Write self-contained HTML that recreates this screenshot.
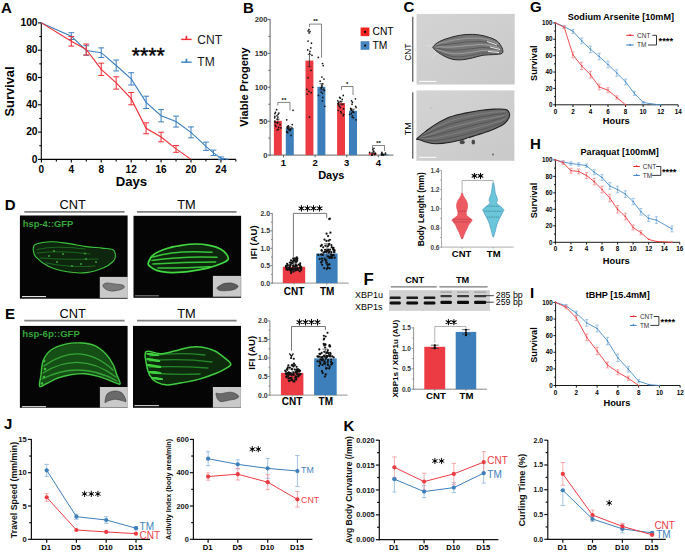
<!DOCTYPE html>
<html><head><meta charset="utf-8"><style>
html,body{margin:0;padding:0;background:#fff;width:685px;height:552px;overflow:hidden}
svg{display:block;font-family:"Liberation Sans",sans-serif}
</style></head><body>
<svg width="685" height="552" viewBox="0 0 685 552">
<rect x="0" y="0" width="685" height="552" fill="#fff"/>
<text x="1.00" y="13.00" font-size="15" font-weight="bold" text-anchor="start" fill="#000">A</text>
<line x1="41.30" y1="22.60" x2="41.30" y2="159.90" stroke="#000" stroke-width="1.1"/>
<line x1="38.00" y1="159.40" x2="41.30" y2="159.40" stroke="#000" stroke-width="1.1"/>
<text x="37.60" y="162.60" font-size="10.3" font-weight="bold" text-anchor="end" fill="#000">0</text>
<line x1="38.00" y1="132.10" x2="41.30" y2="132.10" stroke="#000" stroke-width="1.1"/>
<text x="37.60" y="135.30" font-size="10.3" font-weight="bold" text-anchor="end" fill="#000">20</text>
<line x1="38.00" y1="104.80" x2="41.30" y2="104.80" stroke="#000" stroke-width="1.1"/>
<text x="37.60" y="108.00" font-size="10.3" font-weight="bold" text-anchor="end" fill="#000">40</text>
<line x1="38.00" y1="77.50" x2="41.30" y2="77.50" stroke="#000" stroke-width="1.1"/>
<text x="37.60" y="80.70" font-size="10.3" font-weight="bold" text-anchor="end" fill="#000">60</text>
<line x1="38.00" y1="50.20" x2="41.30" y2="50.20" stroke="#000" stroke-width="1.1"/>
<text x="37.60" y="53.40" font-size="10.3" font-weight="bold" text-anchor="end" fill="#000">80</text>
<line x1="38.00" y1="22.90" x2="41.30" y2="22.90" stroke="#000" stroke-width="1.1"/>
<text x="37.60" y="26.10" font-size="10.3" font-weight="bold" text-anchor="end" fill="#000">100</text>
<line x1="39.30" y1="145.75" x2="41.30" y2="145.75" stroke="#000" stroke-width="1.1"/>
<line x1="39.30" y1="118.45" x2="41.30" y2="118.45" stroke="#000" stroke-width="1.1"/>
<line x1="39.30" y1="91.15" x2="41.30" y2="91.15" stroke="#000" stroke-width="1.1"/>
<line x1="39.30" y1="63.85" x2="41.30" y2="63.85" stroke="#000" stroke-width="1.1"/>
<line x1="39.30" y1="36.55" x2="41.30" y2="36.55" stroke="#000" stroke-width="1.1"/>
<line x1="40.80" y1="159.40" x2="235.88" y2="159.40" stroke="#000" stroke-width="1.1"/>
<line x1="41.40" y1="159.40" x2="41.40" y2="162.40" stroke="#000" stroke-width="1.1"/>
<text x="41.40" y="172.90" font-size="10.0" font-weight="bold" text-anchor="middle" fill="#000">0</text>
<line x1="71.32" y1="159.40" x2="71.32" y2="162.40" stroke="#000" stroke-width="1.1"/>
<text x="71.32" y="172.90" font-size="10.0" font-weight="bold" text-anchor="middle" fill="#000">4</text>
<line x1="101.24" y1="159.40" x2="101.24" y2="162.40" stroke="#000" stroke-width="1.1"/>
<text x="101.24" y="172.90" font-size="10.0" font-weight="bold" text-anchor="middle" fill="#000">8</text>
<line x1="131.16" y1="159.40" x2="131.16" y2="162.40" stroke="#000" stroke-width="1.1"/>
<text x="131.16" y="172.90" font-size="10.0" font-weight="bold" text-anchor="middle" fill="#000">12</text>
<line x1="161.08" y1="159.40" x2="161.08" y2="162.40" stroke="#000" stroke-width="1.1"/>
<text x="161.08" y="172.90" font-size="10.0" font-weight="bold" text-anchor="middle" fill="#000">16</text>
<line x1="191.00" y1="159.40" x2="191.00" y2="162.40" stroke="#000" stroke-width="1.1"/>
<text x="191.00" y="172.90" font-size="10.0" font-weight="bold" text-anchor="middle" fill="#000">20</text>
<line x1="220.92" y1="159.40" x2="220.92" y2="162.40" stroke="#000" stroke-width="1.1"/>
<text x="220.92" y="172.90" font-size="10.0" font-weight="bold" text-anchor="middle" fill="#000">24</text>
<line x1="56.36" y1="159.40" x2="56.36" y2="161.40" stroke="#000" stroke-width="1.1"/>
<line x1="86.28" y1="159.40" x2="86.28" y2="161.40" stroke="#000" stroke-width="1.1"/>
<line x1="116.20" y1="159.40" x2="116.20" y2="161.40" stroke="#000" stroke-width="1.1"/>
<line x1="146.12" y1="159.40" x2="146.12" y2="161.40" stroke="#000" stroke-width="1.1"/>
<line x1="176.04" y1="159.40" x2="176.04" y2="161.40" stroke="#000" stroke-width="1.1"/>
<line x1="205.96" y1="159.40" x2="205.96" y2="161.40" stroke="#000" stroke-width="1.1"/>
<line x1="235.88" y1="159.40" x2="235.88" y2="161.40" stroke="#000" stroke-width="1.1"/>
<text x="131.40" y="186.30" font-size="13.2" font-weight="bold" text-anchor="middle" fill="#000">Days</text>
<text x="13.80" y="91.50" font-size="12.85" font-weight="bold" text-anchor="middle" fill="#000" transform="rotate(-90 13.8 91.5)">Survival</text>
<polyline points="41.40,22.90 71.32,36.14 86.28,50.47 101.24,52.66 116.20,65.49 131.16,78.87 146.12,102.34 161.08,115.72 176.04,121.59 191.00,132.37 205.96,146.30 213.44,152.85 220.92,158.31 228.40,159.40" fill="none" stroke="#3a7fc0" stroke-width="1.1"/>
<line x1="71.32" y1="32.73" x2="71.32" y2="39.55" stroke="#3a7fc0" stroke-width="1.0"/>
<line x1="68.42" y1="32.73" x2="74.22" y2="32.73" stroke="#3a7fc0" stroke-width="1.0"/>
<line x1="68.42" y1="39.55" x2="74.22" y2="39.55" stroke="#3a7fc0" stroke-width="1.0"/>
<line x1="86.28" y1="45.70" x2="86.28" y2="55.25" stroke="#3a7fc0" stroke-width="1.0"/>
<line x1="83.38" y1="45.70" x2="89.18" y2="45.70" stroke="#3a7fc0" stroke-width="1.0"/>
<line x1="83.38" y1="55.25" x2="89.18" y2="55.25" stroke="#3a7fc0" stroke-width="1.0"/>
<line x1="101.24" y1="47.88" x2="101.24" y2="57.43" stroke="#3a7fc0" stroke-width="1.0"/>
<line x1="98.34" y1="47.88" x2="104.14" y2="47.88" stroke="#3a7fc0" stroke-width="1.0"/>
<line x1="98.34" y1="57.43" x2="104.14" y2="57.43" stroke="#3a7fc0" stroke-width="1.0"/>
<line x1="116.20" y1="60.03" x2="116.20" y2="70.95" stroke="#3a7fc0" stroke-width="1.0"/>
<line x1="113.30" y1="60.03" x2="119.10" y2="60.03" stroke="#3a7fc0" stroke-width="1.0"/>
<line x1="113.30" y1="70.95" x2="119.10" y2="70.95" stroke="#3a7fc0" stroke-width="1.0"/>
<line x1="131.16" y1="72.72" x2="131.16" y2="85.01" stroke="#3a7fc0" stroke-width="1.0"/>
<line x1="128.26" y1="72.72" x2="134.06" y2="72.72" stroke="#3a7fc0" stroke-width="1.0"/>
<line x1="128.26" y1="85.01" x2="134.06" y2="85.01" stroke="#3a7fc0" stroke-width="1.0"/>
<line x1="146.12" y1="96.20" x2="146.12" y2="108.49" stroke="#3a7fc0" stroke-width="1.0"/>
<line x1="143.22" y1="96.20" x2="149.02" y2="96.20" stroke="#3a7fc0" stroke-width="1.0"/>
<line x1="143.22" y1="108.49" x2="149.02" y2="108.49" stroke="#3a7fc0" stroke-width="1.0"/>
<line x1="161.08" y1="109.58" x2="161.08" y2="121.86" stroke="#3a7fc0" stroke-width="1.0"/>
<line x1="158.18" y1="109.58" x2="163.98" y2="109.58" stroke="#3a7fc0" stroke-width="1.0"/>
<line x1="158.18" y1="121.86" x2="163.98" y2="121.86" stroke="#3a7fc0" stroke-width="1.0"/>
<line x1="176.04" y1="116.13" x2="176.04" y2="127.05" stroke="#3a7fc0" stroke-width="1.0"/>
<line x1="173.14" y1="116.13" x2="178.94" y2="116.13" stroke="#3a7fc0" stroke-width="1.0"/>
<line x1="173.14" y1="127.05" x2="178.94" y2="127.05" stroke="#3a7fc0" stroke-width="1.0"/>
<line x1="191.00" y1="126.91" x2="191.00" y2="137.83" stroke="#3a7fc0" stroke-width="1.0"/>
<line x1="188.10" y1="126.91" x2="193.90" y2="126.91" stroke="#3a7fc0" stroke-width="1.0"/>
<line x1="188.10" y1="137.83" x2="193.90" y2="137.83" stroke="#3a7fc0" stroke-width="1.0"/>
<line x1="205.96" y1="142.20" x2="205.96" y2="150.39" stroke="#3a7fc0" stroke-width="1.0"/>
<line x1="203.06" y1="142.20" x2="208.86" y2="142.20" stroke="#3a7fc0" stroke-width="1.0"/>
<line x1="203.06" y1="150.39" x2="208.86" y2="150.39" stroke="#3a7fc0" stroke-width="1.0"/>
<line x1="213.44" y1="150.12" x2="213.44" y2="155.58" stroke="#3a7fc0" stroke-width="1.0"/>
<line x1="210.54" y1="150.12" x2="216.34" y2="150.12" stroke="#3a7fc0" stroke-width="1.0"/>
<line x1="210.54" y1="155.58" x2="216.34" y2="155.58" stroke="#3a7fc0" stroke-width="1.0"/>
<line x1="220.92" y1="156.94" x2="220.92" y2="159.67" stroke="#3a7fc0" stroke-width="1.0"/>
<line x1="218.02" y1="156.94" x2="223.82" y2="156.94" stroke="#3a7fc0" stroke-width="1.0"/>
<line x1="218.02" y1="159.67" x2="223.82" y2="159.67" stroke="#3a7fc0" stroke-width="1.0"/>
<polyline points="41.40,22.90 71.32,41.33 86.28,49.52 101.24,69.31 116.20,82.96 131.16,98.66 146.12,128.28 161.08,137.01 176.04,148.89 191.00,159.40" fill="none" stroke="#ef2d35" stroke-width="1.1"/>
<line x1="71.32" y1="36.55" x2="71.32" y2="46.11" stroke="#ef2d35" stroke-width="1.0"/>
<line x1="68.42" y1="36.55" x2="74.22" y2="36.55" stroke="#ef2d35" stroke-width="1.0"/>
<line x1="68.42" y1="46.11" x2="74.22" y2="46.11" stroke="#ef2d35" stroke-width="1.0"/>
<line x1="86.28" y1="44.06" x2="86.28" y2="54.98" stroke="#ef2d35" stroke-width="1.0"/>
<line x1="83.38" y1="44.06" x2="89.18" y2="44.06" stroke="#ef2d35" stroke-width="1.0"/>
<line x1="83.38" y1="54.98" x2="89.18" y2="54.98" stroke="#ef2d35" stroke-width="1.0"/>
<line x1="101.24" y1="63.17" x2="101.24" y2="75.45" stroke="#ef2d35" stroke-width="1.0"/>
<line x1="98.34" y1="63.17" x2="104.14" y2="63.17" stroke="#ef2d35" stroke-width="1.0"/>
<line x1="98.34" y1="75.45" x2="104.14" y2="75.45" stroke="#ef2d35" stroke-width="1.0"/>
<line x1="116.20" y1="76.82" x2="116.20" y2="89.10" stroke="#ef2d35" stroke-width="1.0"/>
<line x1="113.30" y1="76.82" x2="119.10" y2="76.82" stroke="#ef2d35" stroke-width="1.0"/>
<line x1="113.30" y1="89.10" x2="119.10" y2="89.10" stroke="#ef2d35" stroke-width="1.0"/>
<line x1="131.16" y1="92.52" x2="131.16" y2="104.80" stroke="#ef2d35" stroke-width="1.0"/>
<line x1="128.26" y1="92.52" x2="134.06" y2="92.52" stroke="#ef2d35" stroke-width="1.0"/>
<line x1="128.26" y1="104.80" x2="134.06" y2="104.80" stroke="#ef2d35" stroke-width="1.0"/>
<line x1="146.12" y1="122.82" x2="146.12" y2="133.74" stroke="#ef2d35" stroke-width="1.0"/>
<line x1="143.22" y1="122.82" x2="149.02" y2="122.82" stroke="#ef2d35" stroke-width="1.0"/>
<line x1="143.22" y1="133.74" x2="149.02" y2="133.74" stroke="#ef2d35" stroke-width="1.0"/>
<line x1="161.08" y1="132.24" x2="161.08" y2="141.79" stroke="#ef2d35" stroke-width="1.0"/>
<line x1="158.18" y1="132.24" x2="163.98" y2="132.24" stroke="#ef2d35" stroke-width="1.0"/>
<line x1="158.18" y1="141.79" x2="163.98" y2="141.79" stroke="#ef2d35" stroke-width="1.0"/>
<line x1="176.04" y1="145.48" x2="176.04" y2="152.30" stroke="#ef2d35" stroke-width="1.0"/>
<line x1="173.14" y1="145.48" x2="178.94" y2="145.48" stroke="#ef2d35" stroke-width="1.0"/>
<line x1="173.14" y1="152.30" x2="178.94" y2="152.30" stroke="#ef2d35" stroke-width="1.0"/>
<line x1="181.20" y1="39.40" x2="191.60" y2="39.40" stroke="#ef2d35" stroke-width="1.4"/>
<line x1="186.40" y1="35.90" x2="186.40" y2="39.40" stroke="#ef2d35" stroke-width="1.7"/>
<text x="197.30" y="43.50" font-size="12" font-weight="normal" text-anchor="start" fill="#1a1a1a">CNT</text>
<line x1="181.20" y1="62.20" x2="191.60" y2="62.20" stroke="#3a7fc0" stroke-width="1.4"/>
<line x1="186.40" y1="58.70" x2="186.40" y2="62.20" stroke="#3a7fc0" stroke-width="1.7"/>
<text x="197.30" y="66.30" font-size="12" font-weight="normal" text-anchor="start" fill="#1a1a1a">TM</text>
<text x="131.70" y="62.90" font-size="21.2" font-weight="normal" text-anchor="start" fill="#000" stroke="#000" stroke-width="0.4">****</text>
<text x="243.00" y="12.50" font-size="15" font-weight="bold" text-anchor="start" fill="#000">B</text>
<line x1="270.10" y1="19.10" x2="270.10" y2="155.60" stroke="#555" stroke-width="0.9"/>
<line x1="267.60" y1="155.10" x2="270.10" y2="155.10" stroke="#555" stroke-width="0.9"/>
<text x="267.40" y="157.80" font-size="7.6" font-weight="bold" text-anchor="end" fill="#333">0</text>
<line x1="267.60" y1="121.17" x2="270.10" y2="121.17" stroke="#555" stroke-width="0.9"/>
<text x="267.40" y="123.88" font-size="7.6" font-weight="bold" text-anchor="end" fill="#333">50</text>
<line x1="267.60" y1="87.25" x2="270.10" y2="87.25" stroke="#555" stroke-width="0.9"/>
<text x="267.40" y="89.95" font-size="7.6" font-weight="bold" text-anchor="end" fill="#333">100</text>
<line x1="267.60" y1="53.32" x2="270.10" y2="53.32" stroke="#555" stroke-width="0.9"/>
<text x="267.40" y="56.02" font-size="7.6" font-weight="bold" text-anchor="end" fill="#333">150</text>
<line x1="267.60" y1="19.40" x2="270.10" y2="19.40" stroke="#555" stroke-width="0.9"/>
<text x="267.40" y="22.10" font-size="7.6" font-weight="bold" text-anchor="end" fill="#333">200</text>
<line x1="268.30" y1="138.14" x2="270.10" y2="138.14" stroke="#555" stroke-width="0.9"/>
<line x1="268.30" y1="104.21" x2="270.10" y2="104.21" stroke="#555" stroke-width="0.9"/>
<line x1="268.30" y1="70.29" x2="270.10" y2="70.29" stroke="#555" stroke-width="0.9"/>
<line x1="268.30" y1="36.36" x2="270.10" y2="36.36" stroke="#555" stroke-width="0.9"/>
<line x1="269.30" y1="155.10" x2="393.50" y2="155.10" stroke="#555" stroke-width="0.9"/>
<line x1="283.50" y1="155.10" x2="283.50" y2="157.30" stroke="#555" stroke-width="0.9"/>
<line x1="315.10" y1="155.10" x2="315.10" y2="157.30" stroke="#555" stroke-width="0.9"/>
<line x1="346.70" y1="155.10" x2="346.70" y2="157.30" stroke="#555" stroke-width="0.9"/>
<line x1="378.30" y1="155.10" x2="378.30" y2="157.30" stroke="#555" stroke-width="0.9"/>
<text x="283.50" y="165.80" font-size="9.5" font-weight="bold" text-anchor="middle" fill="#000">1</text>
<text x="315.10" y="165.80" font-size="9.5" font-weight="bold" text-anchor="middle" fill="#000">2</text>
<text x="346.70" y="165.80" font-size="9.5" font-weight="bold" text-anchor="middle" fill="#000">3</text>
<text x="378.30" y="165.80" font-size="9.5" font-weight="bold" text-anchor="middle" fill="#000">4</text>
<text x="331.30" y="178.60" font-size="11" font-weight="bold" text-anchor="middle" fill="#000">Days</text>
<text x="248.30" y="87.00" font-size="11" font-weight="bold" text-anchor="middle" fill="#000" transform="rotate(-90 248.3 87)">Viable Progeny</text>
<rect x="273.90" y="120.84" width="7.90" height="34.26" fill="#ec3b43"/>
<rect x="285.80" y="128.10" width="8.00" height="27.00" fill="#3d7fba"/>
<line x1="277.85" y1="119.14" x2="277.85" y2="122.53" stroke="#222" stroke-width="0.7"/>
<line x1="276.05" y1="119.14" x2="279.65" y2="119.14" stroke="#222" stroke-width="0.7"/>
<line x1="276.05" y1="122.53" x2="279.65" y2="122.53" stroke="#222" stroke-width="0.7"/>
<circle cx="276.65" cy="109.64" r="0.85" fill="#111"/>
<circle cx="275.48" cy="112.35" r="0.85" fill="#111"/>
<circle cx="278.88" cy="113.03" r="0.85" fill="#111"/>
<circle cx="274.94" cy="113.71" r="0.85" fill="#111"/>
<circle cx="278.09" cy="114.39" r="0.85" fill="#111"/>
<circle cx="276.94" cy="115.75" r="0.85" fill="#111"/>
<circle cx="274.84" cy="116.43" r="0.85" fill="#111"/>
<circle cx="277.90" cy="117.10" r="0.85" fill="#111"/>
<circle cx="274.70" cy="117.78" r="0.85" fill="#111"/>
<circle cx="277.40" cy="119.14" r="0.85" fill="#111"/>
<circle cx="274.93" cy="121.17" r="0.85" fill="#111"/>
<circle cx="275.07" cy="122.53" r="0.85" fill="#111"/>
<circle cx="277.34" cy="123.21" r="0.85" fill="#111"/>
<circle cx="280.07" cy="124.57" r="0.85" fill="#111"/>
<circle cx="275.29" cy="125.25" r="0.85" fill="#111"/>
<circle cx="275.97" cy="126.60" r="0.85" fill="#111"/>
<circle cx="278.72" cy="127.28" r="0.85" fill="#111"/>
<circle cx="280.89" cy="127.96" r="0.85" fill="#111"/>
<circle cx="278.37" cy="129.32" r="0.85" fill="#111"/>
<circle cx="277.15" cy="130.00" r="0.85" fill="#111"/>
<line x1="289.80" y1="126.87" x2="289.80" y2="129.32" stroke="#222" stroke-width="0.7"/>
<line x1="288.00" y1="126.87" x2="291.60" y2="126.87" stroke="#222" stroke-width="0.7"/>
<line x1="288.00" y1="129.32" x2="291.60" y2="129.32" stroke="#222" stroke-width="0.7"/>
<circle cx="293.04" cy="110.32" r="0.85" fill="#111"/>
<circle cx="286.72" cy="119.82" r="0.85" fill="#111"/>
<circle cx="292.24" cy="124.57" r="0.85" fill="#111"/>
<circle cx="288.37" cy="125.92" r="0.85" fill="#111"/>
<circle cx="287.38" cy="126.60" r="0.85" fill="#111"/>
<circle cx="287.20" cy="127.28" r="0.85" fill="#111"/>
<circle cx="288.50" cy="127.96" r="0.85" fill="#111"/>
<circle cx="291.95" cy="127.96" r="0.85" fill="#111"/>
<circle cx="287.63" cy="128.64" r="0.85" fill="#111"/>
<circle cx="290.35" cy="129.32" r="0.85" fill="#111"/>
<circle cx="290.74" cy="129.32" r="0.85" fill="#111"/>
<circle cx="288.93" cy="130.00" r="0.85" fill="#111"/>
<circle cx="290.12" cy="130.67" r="0.85" fill="#111"/>
<circle cx="286.83" cy="131.35" r="0.85" fill="#111"/>
<circle cx="286.81" cy="132.03" r="0.85" fill="#111"/>
<circle cx="287.80" cy="132.71" r="0.85" fill="#111"/>
<circle cx="291.03" cy="135.42" r="0.85" fill="#111"/>
<rect x="305.50" y="60.58" width="7.90" height="94.52" fill="#ec3b43"/>
<rect x="317.40" y="86.78" width="8.00" height="68.32" fill="#3d7fba"/>
<line x1="309.45" y1="54.48" x2="309.45" y2="66.69" stroke="#222" stroke-width="0.7"/>
<line x1="307.65" y1="54.48" x2="311.25" y2="54.48" stroke="#222" stroke-width="0.7"/>
<line x1="307.65" y1="66.69" x2="311.25" y2="66.69" stroke="#222" stroke-width="0.7"/>
<circle cx="308.96" cy="29.58" r="0.85" fill="#111"/>
<circle cx="308.19" cy="30.93" r="0.85" fill="#111"/>
<circle cx="310.03" cy="31.61" r="0.85" fill="#111"/>
<circle cx="309.13" cy="32.97" r="0.85" fill="#111"/>
<circle cx="308.09" cy="41.11" r="0.85" fill="#111"/>
<circle cx="311.45" cy="43.15" r="0.85" fill="#111"/>
<circle cx="310.80" cy="47.90" r="0.85" fill="#111"/>
<circle cx="307.71" cy="49.93" r="0.85" fill="#111"/>
<circle cx="309.96" cy="51.29" r="0.85" fill="#111"/>
<circle cx="309.62" cy="53.32" r="0.85" fill="#111"/>
<circle cx="312.00" cy="55.36" r="0.85" fill="#111"/>
<circle cx="311.01" cy="70.29" r="0.85" fill="#111"/>
<circle cx="308.01" cy="77.75" r="0.85" fill="#111"/>
<circle cx="312.72" cy="87.25" r="0.85" fill="#111"/>
<circle cx="306.85" cy="89.29" r="0.85" fill="#111"/>
<circle cx="308.89" cy="91.32" r="0.85" fill="#111"/>
<circle cx="311.20" cy="92.68" r="0.85" fill="#111"/>
<circle cx="307.08" cy="94.03" r="0.85" fill="#111"/>
<circle cx="309.37" cy="117.10" r="0.85" fill="#111"/>
<line x1="321.40" y1="83.72" x2="321.40" y2="89.83" stroke="#222" stroke-width="0.7"/>
<line x1="319.60" y1="83.72" x2="323.20" y2="83.72" stroke="#222" stroke-width="0.7"/>
<line x1="319.60" y1="89.83" x2="323.20" y2="89.83" stroke="#222" stroke-width="0.7"/>
<circle cx="318.27" cy="57.40" r="0.85" fill="#111"/>
<circle cx="322.54" cy="63.50" r="0.85" fill="#111"/>
<circle cx="323.20" cy="65.54" r="0.85" fill="#111"/>
<circle cx="321.90" cy="77.07" r="0.85" fill="#111"/>
<circle cx="323.95" cy="79.11" r="0.85" fill="#111"/>
<circle cx="320.13" cy="81.14" r="0.85" fill="#111"/>
<circle cx="322.73" cy="83.86" r="0.85" fill="#111"/>
<circle cx="322.04" cy="85.89" r="0.85" fill="#111"/>
<circle cx="321.94" cy="87.25" r="0.85" fill="#111"/>
<circle cx="321.10" cy="87.93" r="0.85" fill="#111"/>
<circle cx="323.71" cy="89.29" r="0.85" fill="#111"/>
<circle cx="324.42" cy="90.64" r="0.85" fill="#111"/>
<circle cx="321.22" cy="92.00" r="0.85" fill="#111"/>
<circle cx="322.52" cy="93.36" r="0.85" fill="#111"/>
<circle cx="318.41" cy="95.39" r="0.85" fill="#111"/>
<circle cx="322.77" cy="97.43" r="0.85" fill="#111"/>
<circle cx="322.40" cy="100.82" r="0.85" fill="#111"/>
<circle cx="324.75" cy="106.25" r="0.85" fill="#111"/>
<rect x="337.10" y="103.06" width="7.90" height="52.04" fill="#ec3b43"/>
<rect x="349.00" y="110.79" width="8.00" height="44.31" fill="#3d7fba"/>
<line x1="341.05" y1="101.36" x2="341.05" y2="104.76" stroke="#222" stroke-width="0.7"/>
<line x1="339.25" y1="101.36" x2="342.85" y2="101.36" stroke="#222" stroke-width="0.7"/>
<line x1="339.25" y1="104.76" x2="342.85" y2="104.76" stroke="#222" stroke-width="0.7"/>
<circle cx="343.24" cy="95.39" r="0.85" fill="#111"/>
<circle cx="339.59" cy="97.43" r="0.85" fill="#111"/>
<circle cx="340.27" cy="98.11" r="0.85" fill="#111"/>
<circle cx="342.20" cy="99.46" r="0.85" fill="#111"/>
<circle cx="337.80" cy="100.82" r="0.85" fill="#111"/>
<circle cx="340.79" cy="101.50" r="0.85" fill="#111"/>
<circle cx="338.79" cy="102.18" r="0.85" fill="#111"/>
<circle cx="338.45" cy="102.86" r="0.85" fill="#111"/>
<circle cx="338.05" cy="103.53" r="0.85" fill="#111"/>
<circle cx="342.87" cy="104.21" r="0.85" fill="#111"/>
<circle cx="338.53" cy="104.89" r="0.85" fill="#111"/>
<circle cx="339.33" cy="106.25" r="0.85" fill="#111"/>
<circle cx="340.31" cy="107.60" r="0.85" fill="#111"/>
<circle cx="343.58" cy="108.96" r="0.85" fill="#111"/>
<circle cx="338.20" cy="110.32" r="0.85" fill="#111"/>
<circle cx="340.70" cy="111.68" r="0.85" fill="#111"/>
<circle cx="341.39" cy="113.03" r="0.85" fill="#111"/>
<circle cx="343.66" cy="114.39" r="0.85" fill="#111"/>
<circle cx="343.22" cy="115.75" r="0.85" fill="#111"/>
<line x1="353.00" y1="109.10" x2="353.00" y2="112.49" stroke="#222" stroke-width="0.7"/>
<line x1="351.20" y1="109.10" x2="354.80" y2="109.10" stroke="#222" stroke-width="0.7"/>
<line x1="351.20" y1="112.49" x2="354.80" y2="112.49" stroke="#222" stroke-width="0.7"/>
<circle cx="355.48" cy="98.78" r="0.85" fill="#111"/>
<circle cx="351.49" cy="100.82" r="0.85" fill="#111"/>
<circle cx="352.42" cy="102.18" r="0.85" fill="#111"/>
<circle cx="352.04" cy="104.21" r="0.85" fill="#111"/>
<circle cx="355.61" cy="106.25" r="0.85" fill="#111"/>
<circle cx="356.11" cy="107.60" r="0.85" fill="#111"/>
<circle cx="350.63" cy="108.28" r="0.85" fill="#111"/>
<circle cx="350.80" cy="108.96" r="0.85" fill="#111"/>
<circle cx="351.18" cy="109.64" r="0.85" fill="#111"/>
<circle cx="351.19" cy="110.32" r="0.85" fill="#111"/>
<circle cx="352.90" cy="111.00" r="0.85" fill="#111"/>
<circle cx="353.61" cy="112.35" r="0.85" fill="#111"/>
<circle cx="351.39" cy="113.71" r="0.85" fill="#111"/>
<circle cx="349.63" cy="114.39" r="0.85" fill="#111"/>
<circle cx="352.45" cy="115.75" r="0.85" fill="#111"/>
<circle cx="352.11" cy="117.10" r="0.85" fill="#111"/>
<circle cx="353.45" cy="117.78" r="0.85" fill="#111"/>
<circle cx="356.08" cy="119.82" r="0.85" fill="#111"/>
<rect x="368.70" y="153.06" width="7.90" height="2.04" fill="#ec3b43"/>
<rect x="380.60" y="154.42" width="8.00" height="0.68" fill="#3d7fba"/>
<line x1="372.65" y1="152.39" x2="372.65" y2="153.74" stroke="#222" stroke-width="0.7"/>
<line x1="370.85" y1="152.39" x2="374.45" y2="152.39" stroke="#222" stroke-width="0.7"/>
<line x1="370.85" y1="153.74" x2="374.45" y2="153.74" stroke="#222" stroke-width="0.7"/>
<circle cx="373.95" cy="148.31" r="0.85" fill="#111"/>
<circle cx="372.76" cy="149.67" r="0.85" fill="#111"/>
<circle cx="373.45" cy="151.03" r="0.85" fill="#111"/>
<circle cx="373.85" cy="151.71" r="0.85" fill="#111"/>
<circle cx="369.62" cy="152.39" r="0.85" fill="#111"/>
<circle cx="375.37" cy="153.06" r="0.85" fill="#111"/>
<circle cx="374.55" cy="153.74" r="0.85" fill="#111"/>
<circle cx="375.20" cy="153.74" r="0.85" fill="#111"/>
<circle cx="374.68" cy="154.42" r="0.85" fill="#111"/>
<circle cx="371.92" cy="155.10" r="0.85" fill="#111"/>
<circle cx="371.96" cy="155.10" r="0.85" fill="#111"/>
<line x1="384.60" y1="154.08" x2="384.60" y2="154.76" stroke="#222" stroke-width="0.7"/>
<line x1="382.80" y1="154.08" x2="386.40" y2="154.08" stroke="#222" stroke-width="0.7"/>
<line x1="382.80" y1="154.76" x2="386.40" y2="154.76" stroke="#222" stroke-width="0.7"/>
<circle cx="381.90" cy="152.39" r="0.85" fill="#111"/>
<circle cx="385.51" cy="153.06" r="0.85" fill="#111"/>
<circle cx="381.62" cy="153.74" r="0.85" fill="#111"/>
<circle cx="381.66" cy="153.74" r="0.85" fill="#111"/>
<circle cx="382.62" cy="154.42" r="0.85" fill="#111"/>
<circle cx="382.30" cy="154.42" r="0.85" fill="#111"/>
<circle cx="383.51" cy="155.10" r="0.85" fill="#111"/>
<circle cx="381.56" cy="155.10" r="0.85" fill="#111"/>
<polyline points="277.80,105.50 277.80,102.40 290.00,102.40 290.00,110.50" fill="none" stroke="#333" stroke-width="0.6"/>
<text x="283.90" y="101.60" font-size="6" font-weight="bold" text-anchor="middle" fill="#000">**</text>
<polyline points="309.50,27.00 309.50,24.10 321.50,24.10 321.50,57.70" fill="none" stroke="#333" stroke-width="0.6"/>
<text x="315.50" y="23.30" font-size="6" font-weight="bold" text-anchor="middle" fill="#000">**</text>
<polyline points="341.50,90.00 341.50,86.50 353.00,86.50 353.00,95.00" fill="none" stroke="#333" stroke-width="0.6"/>
<text x="347.25" y="85.70" font-size="6" font-weight="bold" text-anchor="middle" fill="#000">*</text>
<polyline points="372.50,149.00 372.50,145.50 384.50,145.50 384.50,151.00" fill="none" stroke="#333" stroke-width="0.6"/>
<text x="378.50" y="144.70" font-size="6" font-weight="bold" text-anchor="middle" fill="#000">**</text>
<rect x="360.60" y="27.50" width="8.80" height="8.60" fill="#f2241f"/>
<circle cx="365.10" cy="31.90" r="1.15" fill="#000"/>
<text x="372.50" y="35.40" font-size="10.3" font-weight="normal" text-anchor="start" fill="#000">CNT</text>
<rect x="360.60" y="41.20" width="8.80" height="8.60" fill="#4585c0"/>
<circle cx="365.10" cy="45.60" r="1.15" fill="#000"/>
<text x="372.50" y="49.10" font-size="10.3" font-weight="normal" text-anchor="start" fill="#000">TM</text>
<text x="403.40" y="11.60" font-size="15" font-weight="bold" text-anchor="start" fill="#000">C</text>
<defs><linearGradient id="dicbg" x1="0" y1="0" x2="1" y2="1"><stop offset="0" stop-color="#d4d4d4"/><stop offset="1" stop-color="#c9c9c9"/></linearGradient><filter id="bl06"><feGaussianBlur stdDeviation="0.6"/></filter><filter id="bl1"><feGaussianBlur stdDeviation="1"/></filter><filter id="bl04"><feGaussianBlur stdDeviation="0.4"/></filter></defs>
<rect x="416.50" y="13.90" width="98.20" height="70.60" fill="url(#dicbg)"/>
<rect x="416.40" y="90.40" width="98.00" height="70.40" fill="url(#dicbg)"/>
<line x1="434.00" y1="46.50" x2="426.00" y2="45.20" stroke="#e6e6e6" stroke-width="0.6"/>
<line x1="437.00" y1="53.00" x2="432.00" y2="57.50" stroke="#e6e6e6" stroke-width="0.6"/>
<path d="M433.10,46.70 C433.97,45.38 436.40,43.05 439.70,41.40 C443.00,39.75 448.52,37.95 452.90,36.80 C457.28,35.65 461.63,34.82 466.00,34.50 C470.37,34.18 475.17,34.40 479.10,34.90 C483.03,35.40 486.53,36.42 489.60,37.50 C492.67,38.58 495.42,39.65 497.50,41.40 C499.58,43.15 501.33,46.02 502.10,48.00 C502.87,49.98 503.52,52.20 502.10,53.30 C500.68,54.40 496.77,54.28 493.60,54.60 C490.43,54.92 486.60,54.65 483.10,55.20 C479.60,55.75 476.12,57.13 472.60,57.90 C469.08,58.67 465.28,59.55 462.00,59.80 C458.72,60.05 455.73,59.95 452.90,59.40 C450.07,58.85 447.42,57.63 445.00,56.50 C442.58,55.37 440.15,53.80 438.40,52.60 C436.65,51.40 435.38,50.28 434.50,49.30 C433.62,48.32 432.23,48.02 433.10,46.70 Z" fill="#757575" stroke="#2a2a2a" stroke-width="1.0" filter="url(#bl04)"/>
<polyline points="437.00,44.75 438.50,43.91 440.00,43.13 441.50,42.82 443.00,42.51 444.50,42.20 446.00,41.85 447.50,41.49 449.00,41.13 450.50,40.77 452.00,40.41 453.50,40.10 455.00,39.89 456.50,39.68 458.00,39.46 459.50,39.25 461.00,39.03 462.50,38.80 464.00,38.54 465.50,38.28 467.00,38.19 468.50,38.19 470.00,38.18 471.50,38.18 473.00,38.18 474.50,38.16 476.00,38.14 477.50,38.12 479.00,38.10 480.50,38.34 482.00,38.60 483.50,38.87 485.00,39.17 486.50,39.47 488.00,39.78 489.50,40.08 491.00,40.67 492.50,41.29 494.00,41.90 495.50,42.50 497.00,43.09 498.50,44.49" fill="none" stroke="#a6a6a6" stroke-width="0.8" filter="url(#bl04)" stroke-linecap="round"/>
<polyline points="437.00,45.92 438.50,45.45 440.00,44.97 441.50,44.87 443.00,44.77 444.50,44.67 446.00,44.50 447.50,44.30 449.00,44.10 450.50,43.90 452.00,43.70 453.50,43.51 455.00,43.35 456.50,43.19 458.00,43.02 459.50,42.86 461.00,42.69 462.50,42.49 464.00,42.23 465.50,41.96 467.00,41.84 468.50,41.79 470.00,41.75 471.50,41.70 473.00,41.64 474.50,41.56 476.00,41.47 477.50,41.39 479.00,41.30 480.50,41.43 482.00,41.58 483.50,41.75 485.00,41.98 486.50,42.21 488.00,42.45 489.50,42.68 491.00,43.16 492.50,43.65 494.00,44.13 495.50,44.58 497.00,45.03 498.50,46.14" fill="none" stroke="#505050" stroke-width="0.8" filter="url(#bl04)" stroke-linecap="round"/>
<polyline points="437.00,47.10 438.50,47.00 440.00,46.81 441.50,46.92 443.00,47.03 444.50,47.14 446.00,47.15 447.50,47.11 449.00,47.07 450.50,47.03 452.00,46.99 453.50,46.92 455.00,46.81 456.50,46.69 458.00,46.58 459.50,46.46 461.00,46.35 462.50,46.18 464.00,45.92 465.50,45.65 467.00,45.50 468.50,45.40 470.00,45.31 471.50,45.21 473.00,45.10 474.50,44.95 476.00,44.80 477.50,44.66 479.00,44.51 480.50,44.53 482.00,44.56 483.50,44.62 485.00,44.79 486.50,44.96 488.00,45.12 489.50,45.29 491.00,45.64 492.50,46.01 494.00,46.36 495.50,46.67 497.00,46.97 498.50,47.79" fill="none" stroke="#b0b0b0" stroke-width="0.8" filter="url(#bl04)" stroke-linecap="round"/>
<polyline points="437.00,48.28 438.50,48.54 440.00,48.65 441.50,48.97 443.00,49.29 444.50,49.61 446.00,49.80 447.50,49.92 449.00,50.04 450.50,50.17 452.00,50.29 453.50,50.33 455.00,50.27 456.50,50.20 458.00,50.14 459.50,50.07 461.00,50.00 462.50,49.87 464.00,49.61 465.50,49.34 467.00,49.15 468.50,49.01 470.00,48.87 471.50,48.73 473.00,48.56 474.50,48.35 476.00,48.14 477.50,47.92 479.00,47.71 480.50,47.62 482.00,47.54 483.50,47.50 485.00,47.60 486.50,47.70 488.00,47.79 489.50,47.89 491.00,48.13 492.50,48.37 494.00,48.59 495.50,48.75 497.00,48.91 498.50,49.44" fill="none" stroke="#505050" stroke-width="0.8" filter="url(#bl04)" stroke-linecap="round"/>
<polyline points="437.00,49.45 438.50,50.09 440.00,50.48 441.50,51.02 443.00,51.55 444.50,52.09 446.00,52.45 447.50,52.73 449.00,53.02 450.50,53.30 452.00,53.58 453.50,53.74 455.00,53.73 456.50,53.71 458.00,53.69 459.50,53.68 461.00,53.66 462.50,53.56 464.00,53.29 465.50,53.03 467.00,52.81 468.50,52.62 470.00,52.43 471.50,52.24 473.00,52.03 474.50,51.75 476.00,51.47 477.50,51.19 479.00,50.91 480.50,50.71 482.00,50.52 483.50,50.38 485.00,50.41 486.50,50.44 488.00,50.47 489.50,50.49 491.00,50.61 492.50,50.73 494.00,50.82 495.50,50.84 497.00,50.85 498.50,51.10" fill="none" stroke="#a8a8a8" stroke-width="0.8" filter="url(#bl04)" stroke-linecap="round"/>
<polyline points="437.00,50.47 438.50,51.42 440.00,52.08 441.50,52.79 443.00,53.51 444.50,54.23 446.00,54.75 447.50,55.17 449.00,55.59 450.50,56.01 452.00,56.43 453.50,56.70 455.00,56.72 456.50,56.75 458.00,56.78 459.50,56.80 461.00,56.83 462.50,56.76 464.00,56.49 465.50,56.22 467.00,55.98 468.50,55.75 470.00,55.52 471.50,55.29 473.00,55.03 474.50,54.69 476.00,54.36 477.50,54.03 479.00,53.69 480.50,53.39 482.00,53.10 483.50,52.87 485.00,52.84 486.50,52.81 488.00,52.78 489.50,52.75 491.00,52.76 492.50,52.78 494.00,52.75 495.50,52.64 497.00,52.53 498.50,52.53" fill="none" stroke="#555" stroke-width="0.8" filter="url(#bl04)" stroke-linecap="round"/>
<line x1="487.00" y1="41.50" x2="497.00" y2="45.00" stroke="#e8e8e8" stroke-width="1.0" filter="url(#bl04)"/>
<line x1="490.00" y1="47.00" x2="500.00" y2="49.50" stroke="#e8e8e8" stroke-width="1.0" filter="url(#bl04)"/>
<line x1="488.00" y1="51.50" x2="499.00" y2="52.50" stroke="#e8e8e8" stroke-width="1.0" filter="url(#bl04)"/>
<path d="M416.90,138.70 C417.88,137.32 422.53,133.83 425.70,131.40 C428.87,128.97 431.77,126.53 435.90,124.10 C440.03,121.67 445.63,118.63 450.50,116.80 C455.37,114.97 460.23,114.15 465.10,113.10 C469.97,112.05 474.83,111.17 479.70,110.50 C484.57,109.83 489.92,109.27 494.30,109.10 C498.68,108.93 503.45,108.58 506.00,109.50 C508.55,110.42 509.37,112.78 509.60,114.60 C509.83,116.42 508.73,118.58 507.40,120.40 C506.07,122.22 504.52,123.78 501.60,125.50 C498.68,127.22 494.03,129.12 489.90,130.70 C485.77,132.28 480.93,133.67 476.80,135.00 C472.67,136.33 469.48,137.48 465.10,138.70 C460.72,139.92 455.37,141.45 450.50,142.30 C445.63,143.15 439.80,143.80 435.90,143.80 C432.00,143.80 429.78,142.98 427.10,142.30 C424.42,141.62 421.50,140.30 419.80,139.70 C418.10,139.10 415.92,140.08 416.90,138.70 Z" fill="#6a6a6a" stroke="#222" stroke-width="1.1" filter="url(#bl04)"/>
<polyline points="422.00,135.37 423.50,134.39 425.00,133.42 426.50,132.52 428.00,131.66 429.50,130.78 431.00,129.91 432.50,129.04 434.00,128.16 435.50,127.29 437.00,126.57 438.50,125.91 440.00,125.25 441.50,124.59 443.00,123.93 444.50,123.27 446.00,122.61 447.50,121.95 449.00,121.29 450.50,120.62 452.00,120.25 453.50,119.87 455.00,119.49 456.50,119.11 458.00,118.73 459.50,118.35 461.00,117.97 462.50,117.60 464.00,117.22 465.50,116.86 467.00,116.56 468.50,116.26 470.00,115.97 471.50,115.67 473.00,115.37 474.50,115.07 476.00,114.77 477.50,114.47 479.00,114.17 480.50,113.93 482.00,113.73 483.50,113.54 485.00,113.34 486.50,113.14 488.00,112.95 489.50,112.75 491.00,112.54 492.50,112.31 494.00,112.09 495.50,112.00 497.00,111.95 498.50,111.89 500.00,111.83 501.50,111.78 503.00,111.63 504.50,111.47" fill="none" stroke="#8a8a8a" stroke-width="0.7" filter="url(#bl04)" stroke-linecap="round"/>
<polyline points="422.00,136.15 423.50,135.41 425.00,134.66 426.50,133.98 428.00,133.31 429.50,132.61 431.00,131.91 432.50,131.21 434.00,130.50 435.50,129.80 437.00,129.19 438.50,128.61 440.00,128.02 441.50,127.44 443.00,126.86 444.50,126.27 446.00,125.69 447.50,125.11 449.00,124.52 450.50,123.94 452.00,123.56 453.50,123.19 455.00,122.81 456.50,122.43 458.00,122.05 459.50,121.68 461.00,121.30 462.50,120.92 464.00,120.54 465.50,120.18 467.00,119.86 468.50,119.53 470.00,119.21 471.50,118.88 473.00,118.56 474.50,118.23 476.00,117.91 477.50,117.58 479.00,117.25 480.50,116.96 482.00,116.72 483.50,116.48 485.00,116.24 486.50,116.00 488.00,115.76 489.50,115.52 491.00,115.24 492.50,114.95 494.00,114.66 495.50,114.48 497.00,114.33 498.50,114.18 500.00,114.03 501.50,113.88 503.00,113.56 504.50,113.23" fill="none" stroke="#4c4c4c" stroke-width="0.7" filter="url(#bl04)" stroke-linecap="round"/>
<polyline points="422.00,137.00 423.50,136.50 425.00,136.00 426.50,135.56 428.00,135.09 429.50,134.57 431.00,134.06 432.50,133.54 434.00,133.03 435.50,132.51 437.00,132.01 438.50,131.51 440.00,131.01 441.50,130.51 443.00,130.01 444.50,129.51 446.00,129.01 447.50,128.51 449.00,128.01 450.50,127.51 452.00,127.13 453.50,126.76 455.00,126.38 456.50,126.01 458.00,125.63 459.50,125.26 461.00,124.88 462.50,124.50 464.00,124.13 465.50,123.76 467.00,123.40 468.50,123.05 470.00,122.70 471.50,122.34 473.00,121.99 474.50,121.63 476.00,121.28 477.50,120.92 479.00,120.56 480.50,120.24 482.00,119.95 483.50,119.65 485.00,119.36 486.50,119.07 488.00,118.78 489.50,118.49 491.00,118.15 492.50,117.79 494.00,117.42 495.50,117.15 497.00,116.90 498.50,116.65 500.00,116.40 501.50,116.15 503.00,115.64 504.50,115.12" fill="none" stroke="#909090" stroke-width="0.7" filter="url(#bl04)" stroke-linecap="round"/>
<polyline points="422.00,137.84 423.50,137.59 425.00,137.34 426.50,137.13 428.00,136.87 429.50,136.54 431.00,136.21 432.50,135.88 434.00,135.55 435.50,135.22 437.00,134.83 438.50,134.41 440.00,133.99 441.50,133.58 443.00,133.16 444.50,132.75 446.00,132.33 447.50,131.91 449.00,131.50 450.50,131.08 452.00,130.71 453.50,130.33 455.00,129.96 456.50,129.58 458.00,129.21 459.50,128.83 461.00,128.46 462.50,128.08 464.00,127.71 465.50,127.33 467.00,126.95 468.50,126.57 470.00,126.18 471.50,125.80 473.00,125.42 474.50,125.03 476.00,124.65 477.50,124.26 479.00,123.87 480.50,123.51 482.00,123.17 483.50,122.83 485.00,122.49 486.50,122.15 488.00,121.81 489.50,121.47 491.00,121.06 492.50,120.62 494.00,120.19 495.50,119.82 497.00,119.47 498.50,119.12 500.00,118.77 501.50,118.42 503.00,117.73 504.50,117.01" fill="none" stroke="#4c4c4c" stroke-width="0.7" filter="url(#bl04)" stroke-linecap="round"/>
<polyline points="422.00,138.68 423.50,138.68 425.00,138.68 426.50,138.71 428.00,138.64 429.50,138.50 431.00,138.36 432.50,138.21 434.00,138.07 435.50,137.93 437.00,137.65 438.50,137.31 440.00,136.98 441.50,136.65 443.00,136.31 444.50,135.98 446.00,135.65 447.50,135.32 449.00,134.98 450.50,134.65 452.00,134.28 453.50,133.90 455.00,133.53 456.50,133.16 458.00,132.79 459.50,132.41 461.00,132.04 462.50,131.67 464.00,131.29 465.50,130.91 467.00,130.50 468.50,130.09 470.00,129.67 471.50,129.26 473.00,128.85 474.50,128.44 476.00,128.02 477.50,127.61 479.00,127.18 480.50,126.78 482.00,126.39 483.50,126.00 485.00,125.61 486.50,125.23 488.00,124.84 489.50,124.45 491.00,123.97 492.50,123.46 494.00,122.95 495.50,122.49 497.00,122.04 498.50,121.59 500.00,121.14 501.50,120.68 503.00,119.81 504.50,118.90" fill="none" stroke="#888" stroke-width="0.7" filter="url(#bl04)" stroke-linecap="round"/>
<polyline points="422.00,139.52 423.50,139.77 425.00,140.02 426.50,140.28 428.00,140.42 429.50,140.46 431.00,140.51 432.50,140.55 434.00,140.59 435.50,140.64 437.00,140.47 438.50,140.22 440.00,139.97 441.50,139.72 443.00,139.47 444.50,139.22 446.00,138.97 447.50,138.72 449.00,138.47 450.50,138.22 452.00,137.85 453.50,137.48 455.00,137.11 456.50,136.73 458.00,136.36 459.50,135.99 461.00,135.62 462.50,135.25 464.00,134.88 465.50,134.49 467.00,134.05 468.50,133.60 470.00,133.16 471.50,132.72 473.00,132.28 474.50,131.84 476.00,131.40 477.50,130.95 479.00,130.49 480.50,130.05 482.00,129.61 483.50,129.17 485.00,128.74 486.50,128.30 488.00,127.86 489.50,127.43 491.00,126.88 492.50,126.30 494.00,125.72 495.50,125.16 497.00,124.61 498.50,124.06 500.00,123.50 501.50,122.95 503.00,121.89 504.50,120.79" fill="none" stroke="#505050" stroke-width="0.7" filter="url(#bl04)" stroke-linecap="round"/>
<circle cx="468.00" cy="139.00" r="0.9" fill="#d8d8d8" filter="url(#bl04)"/>
<ellipse cx="462.2" cy="142.2" rx="2.6" ry="2.1" fill="#4a4a4a" filter="url(#bl04)"/>
<ellipse cx="473.3" cy="142.0" rx="1.8" ry="2.6" fill="#4a4a4a" filter="url(#bl04)"/>
<circle cx="493.00" cy="154.50" r="1.0" fill="#666"/>
<circle cx="431.00" cy="108.00" r="0.6" fill="#999"/>
<line x1="419.00" y1="81.40" x2="436.40" y2="81.40" stroke="#fff" stroke-width="1.0"/>
<line x1="419.00" y1="157.30" x2="436.40" y2="157.30" stroke="#fff" stroke-width="1.0"/>
<line x1="412.80" y1="16.70" x2="412.80" y2="81.80" stroke="#333" stroke-width="1.0"/>
<line x1="412.80" y1="92.40" x2="412.80" y2="158.70" stroke="#333" stroke-width="1.0"/>
<text x="410.60" y="52.20" font-size="8.4" font-weight="normal" text-anchor="middle" fill="#000" transform="rotate(-90 410.6 52.2)">CNT</text>
<text x="410.60" y="128.70" font-size="9.0" font-weight="normal" text-anchor="middle" fill="#000" transform="rotate(-90 410.6 128.7)">TM</text>
<line x1="441.50" y1="170.08" x2="441.50" y2="247.60" stroke="#999" stroke-width="0.8"/>
<line x1="439.50" y1="247.10" x2="441.50" y2="247.10" stroke="#999" stroke-width="0.8"/>
<text x="439.50" y="249.50" font-size="6.5" font-weight="bold" text-anchor="end" fill="#444">0.6</text>
<line x1="439.50" y1="227.92" x2="441.50" y2="227.92" stroke="#999" stroke-width="0.8"/>
<text x="439.50" y="230.32" font-size="6.5" font-weight="bold" text-anchor="end" fill="#444">0.8</text>
<line x1="439.50" y1="208.74" x2="441.50" y2="208.74" stroke="#999" stroke-width="0.8"/>
<text x="439.50" y="211.14" font-size="6.5" font-weight="bold" text-anchor="end" fill="#444">1.0</text>
<line x1="439.50" y1="189.56" x2="441.50" y2="189.56" stroke="#999" stroke-width="0.8"/>
<text x="439.50" y="191.96" font-size="6.5" font-weight="bold" text-anchor="end" fill="#444">1.2</text>
<line x1="439.50" y1="170.38" x2="441.50" y2="170.38" stroke="#999" stroke-width="0.8"/>
<text x="439.50" y="172.78" font-size="6.5" font-weight="bold" text-anchor="end" fill="#444">1.4</text>
<line x1="440.00" y1="237.51" x2="441.50" y2="237.51" stroke="#999" stroke-width="0.8"/>
<line x1="440.00" y1="218.33" x2="441.50" y2="218.33" stroke="#999" stroke-width="0.8"/>
<line x1="440.00" y1="199.15" x2="441.50" y2="199.15" stroke="#999" stroke-width="0.8"/>
<line x1="440.00" y1="179.97" x2="441.50" y2="179.97" stroke="#999" stroke-width="0.8"/>
<line x1="441.00" y1="247.10" x2="513.60" y2="247.10" stroke="#999" stroke-width="0.8"/>
<line x1="462.10" y1="247.10" x2="462.10" y2="248.60" stroke="#999" stroke-width="0.8"/>
<line x1="493.30" y1="247.10" x2="493.30" y2="248.60" stroke="#999" stroke-width="0.8"/>
<text x="461.60" y="256.80" font-size="9.5" font-weight="bold" text-anchor="middle" fill="#000">CNT</text>
<text x="493.70" y="256.80" font-size="9.5" font-weight="bold" text-anchor="middle" fill="#000">TM</text>
<text x="424.20" y="209.30" font-size="8.4" font-weight="bold" text-anchor="middle" fill="#000" transform="rotate(-90 424.2 209.3)">Body Lenght (mm)</text>
<path d="M462.50,193.00 L463.30,196.00 L464.60,198.00 L466.50,201.00 L467.50,204.00 L467.60,207.00 L466.90,210.00 L466.10,213.00 L466.70,215.50 L469.10,217.50 L472.40,220.00 L470.60,222.50 L468.60,225.00 L467.10,228.50 L465.30,232.00 L464.00,235.20 L462.50,239.00 L461.70,239.00 L460.20,235.20 L458.90,232.00 L457.10,228.50 L455.60,225.00 L453.60,222.50 L451.80,220.00 L455.10,217.50 L457.50,215.50 L458.10,213.00 L457.30,210.00 L456.60,207.00 L456.70,204.00 L457.70,201.00 L459.60,198.00 L460.90,196.00 L461.70,193.00 Z" fill="#ee5a62" stroke="#e24850" stroke-width="0.6" stroke-linejoin="round"/>
<path d="M493.70,182.80 L494.30,186.00 L494.80,190.00 L495.30,193.30 L496.30,196.00 L497.30,198.50 L497.50,200.50 L496.30,202.80 L498.30,205.00 L501.80,207.50 L504.10,209.90 L502.30,213.00 L500.30,217.10 L498.30,221.00 L496.90,224.70 L495.90,228.50 L495.00,232.30 L494.20,235.00 L493.60,237.10 L493.00,237.10 L492.40,235.00 L491.60,232.30 L490.70,228.50 L489.70,224.70 L488.30,221.00 L486.30,217.10 L484.30,213.00 L482.50,209.90 L484.80,207.50 L488.30,205.00 L490.30,202.80 L489.10,200.50 L489.30,198.50 L490.30,196.00 L491.30,193.30 L491.80,190.00 L492.30,186.00 L492.90,182.80 Z" fill="#6cc6d9" stroke="#3d8fc4" stroke-width="0.6" stroke-linejoin="round"/>
<line x1="458.20" y1="211.20" x2="466.00" y2="211.20" stroke="#8a3036" stroke-width="0.5" stroke-dasharray="1.3,0.5"/>
<line x1="452.80" y1="219.30" x2="471.40" y2="219.30" stroke="#8a3036" stroke-width="0.5" stroke-dasharray="1.3,0.5"/>
<line x1="453.80" y1="221.90" x2="470.40" y2="221.90" stroke="#8a3036" stroke-width="0.5" stroke-dasharray="1.3,0.5"/>
<line x1="487.00" y1="206.20" x2="499.60" y2="206.20" stroke="#285e7c" stroke-width="0.5" stroke-dasharray="1.3,0.5"/>
<line x1="484.20" y1="211.20" x2="502.40" y2="211.20" stroke="#285e7c" stroke-width="0.5" stroke-dasharray="1.3,0.5"/>
<line x1="487.00" y1="217.10" x2="499.60" y2="217.10" stroke="#285e7c" stroke-width="0.5" stroke-dasharray="1.3,0.5"/>
<polyline points="462.10,192.90 462.10,180.50 493.30,180.50 493.30,182.90" fill="none" stroke="#aaa" stroke-width="0.9"/>
<path d="M474.40,173.20 L474.40,178.60 M472.06,174.55 L476.74,177.25 M476.74,174.55 L472.06,177.25 " stroke="#000" stroke-width="1.05" stroke-linecap="round" fill="none"/>
<circle cx="474.40" cy="175.90" r="1.215" fill="#000"/>
<path d="M480.50,173.20 L480.50,178.60 M478.16,174.55 L482.84,177.25 M482.84,174.55 L478.16,177.25 " stroke="#000" stroke-width="1.05" stroke-linecap="round" fill="none"/>
<circle cx="480.50" cy="175.90" r="1.215" fill="#000"/>
<text x="4.80" y="209.90" font-size="15" font-weight="bold" text-anchor="start" fill="#000">D</text>
<text x="72.70" y="208.90" font-size="12.8" font-weight="normal" text-anchor="middle" fill="#000">CNT</text>
<text x="186.40" y="208.90" font-size="12.8" font-weight="normal" text-anchor="middle" fill="#000">TM</text>
<line x1="24.30" y1="211.80" x2="124.60" y2="211.80" stroke="#808080" stroke-width="1.7"/>
<line x1="137.00" y1="211.80" x2="236.60" y2="211.80" stroke="#808080" stroke-width="1.7"/>
<rect x="19.90" y="215.50" width="107.70" height="83.20" fill="#050505"/>
<rect x="133.50" y="215.80" width="107.60" height="82.00" fill="#050505"/>
<path d="M33.40,248.10 C33.78,246.97 32.78,245.25 35.80,244.20 C38.82,243.15 46.25,241.93 51.50,241.80 C56.75,241.67 61.52,242.60 67.30,243.40 C73.08,244.20 80.42,245.82 86.20,246.60 C91.98,247.38 97.53,247.58 102.00,248.10 C106.47,248.62 110.77,248.38 113.00,249.70 C115.23,251.02 115.40,254.03 115.40,256.00 C115.40,257.97 114.97,259.53 113.00,261.50 C111.03,263.47 108.07,265.95 103.60,267.80 C99.13,269.65 92.25,271.93 86.20,272.60 C80.15,273.27 73.60,272.85 67.30,271.80 C61.00,270.75 53.65,268.80 48.40,266.30 C43.15,263.80 38.28,259.35 35.80,256.80 C33.32,254.25 33.90,252.45 33.50,251.00 C33.10,249.55 33.02,249.23 33.40,248.10 Z" fill="#0a260c" stroke="none" stroke-width="0" filter="url(#bl1)"/>
<path d="M37,249.5 Q55,245 85,249" fill="none" stroke="#1d6e20" stroke-width="0.9" filter="url(#bl04)" stroke-linecap="round"/>
<path d="M37,253 Q60,250 90,254" fill="none" stroke="#1d6e20" stroke-width="0.9" filter="url(#bl04)" stroke-linecap="round"/>
<path d="M40,258 Q65,260 98,259" fill="none" stroke="#1d6e20" stroke-width="0.9" filter="url(#bl04)" stroke-linecap="round"/>
<path d="M46,263 Q70,268 95,266" fill="none" stroke="#1d6e20" stroke-width="0.9" filter="url(#bl04)" stroke-linecap="round"/>
<path d="M33.40,248.10 C33.78,246.97 32.78,245.25 35.80,244.20 C38.82,243.15 46.25,241.93 51.50,241.80 C56.75,241.67 61.52,242.60 67.30,243.40 C73.08,244.20 80.42,245.82 86.20,246.60 C91.98,247.38 97.53,247.58 102.00,248.10 C106.47,248.62 110.77,248.38 113.00,249.70 C115.23,251.02 115.40,254.03 115.40,256.00 C115.40,257.97 114.97,259.53 113.00,261.50 C111.03,263.47 108.07,265.95 103.60,267.80 C99.13,269.65 92.25,271.93 86.20,272.60 C80.15,273.27 73.60,272.85 67.30,271.80 C61.00,270.75 53.65,268.80 48.40,266.30 C43.15,263.80 38.28,259.35 35.80,256.80 C33.32,254.25 33.90,252.45 33.50,251.00 C33.10,249.55 33.02,249.23 33.40,248.10 Z" fill="none" stroke="#3cc23c" stroke-width="1.1" filter="url(#bl04)"/>
<circle cx="54.00" cy="251.00" r="0.9" fill="#3fae3f" filter="url(#bl04)"/>
<circle cx="63.00" cy="254.00" r="0.9" fill="#3fae3f" filter="url(#bl04)"/>
<circle cx="85.00" cy="253.50" r="0.9" fill="#3fae3f" filter="url(#bl04)"/>
<circle cx="86.00" cy="259.00" r="0.9" fill="#3fae3f" filter="url(#bl04)"/>
<circle cx="72.00" cy="266.00" r="0.9" fill="#3fae3f" filter="url(#bl04)"/>
<circle cx="57.00" cy="262.00" r="0.9" fill="#3fae3f" filter="url(#bl04)"/>
<circle cx="96.00" cy="262.00" r="0.9" fill="#3fae3f" filter="url(#bl04)"/>
<circle cx="49.00" cy="256.00" r="0.9" fill="#3fae3f" filter="url(#bl04)"/>
<circle cx="81.00" cy="264.00" r="0.9" fill="#3fae3f" filter="url(#bl04)"/>
<path d="M148.30,262.70 C149.00,260.73 150.67,256.82 153.90,254.40 C157.13,251.98 163.08,249.70 167.70,248.20 C172.32,246.70 176.97,246.10 181.60,245.40 C186.23,244.70 190.88,244.00 195.50,244.00 C200.12,244.00 205.15,244.58 209.30,245.40 C213.45,246.22 217.50,247.40 220.40,248.90 C223.30,250.40 225.42,252.67 226.70,254.40 C227.98,256.13 228.68,257.92 228.10,259.30 C227.52,260.68 226.33,261.32 223.20,262.70 C220.07,264.08 213.92,266.32 209.30,267.60 C204.68,268.88 200.12,269.63 195.50,270.40 C190.88,271.17 186.23,271.87 181.60,272.20 C176.97,272.53 171.87,272.70 167.70,272.40 C163.53,272.10 159.60,271.43 156.60,270.40 C153.60,269.37 151.08,267.48 149.70,266.20 C148.32,264.92 147.60,264.67 148.30,262.70 Z" fill="#0a280c" stroke="none" stroke-width="0" filter="url(#bl1)"/>
<path d="M153,257 Q175,250 212,252.3" fill="none" stroke="#38c438" stroke-width="1.6" filter="url(#bl04)" stroke-linecap="round"/>
<path d="M152,260.5 Q180,256 217,257.2" fill="none" stroke="#38c438" stroke-width="1.6" filter="url(#bl04)" stroke-linecap="round"/>
<path d="M153,264 Q185,262 215.6,262" fill="none" stroke="#38c438" stroke-width="1.6" filter="url(#bl04)" stroke-linecap="round"/>
<path d="M158,268 Q190,268 210,266.5" fill="none" stroke="#38c438" stroke-width="1.6" filter="url(#bl04)" stroke-linecap="round"/>
<path d="M148.30,262.70 C149.00,260.73 150.67,256.82 153.90,254.40 C157.13,251.98 163.08,249.70 167.70,248.20 C172.32,246.70 176.97,246.10 181.60,245.40 C186.23,244.70 190.88,244.00 195.50,244.00 C200.12,244.00 205.15,244.58 209.30,245.40 C213.45,246.22 217.50,247.40 220.40,248.90 C223.30,250.40 225.42,252.67 226.70,254.40 C227.98,256.13 228.68,257.92 228.10,259.30 C227.52,260.68 226.33,261.32 223.20,262.70 C220.07,264.08 213.92,266.32 209.30,267.60 C204.68,268.88 200.12,269.63 195.50,270.40 C190.88,271.17 186.23,271.87 181.60,272.20 C176.97,272.53 171.87,272.70 167.70,272.40 C163.53,272.10 159.60,271.43 156.60,270.40 C153.60,269.37 151.08,267.48 149.70,266.20 C148.32,264.92 147.60,264.67 148.30,262.70 Z" fill="none" stroke="#42d842" stroke-width="1.7" filter="url(#bl04)"/>
<rect x="99.80" y="276.90" width="28.10" height="21.00" fill="#c9c9c9"/>
<path d="M102.90,285.00 C103.13,284.37 104.15,283.73 105.00,283.40 C105.85,283.07 106.43,282.92 108.00,283.00 C109.57,283.08 112.40,283.63 114.40,283.90 C116.40,284.17 118.53,284.37 120.00,284.60 C121.47,284.83 122.47,284.87 123.20,285.30 C123.93,285.73 124.60,286.58 124.40,287.20 C124.20,287.82 122.90,288.53 122.00,289.00 C121.10,289.47 120.67,289.65 119.00,290.00 C117.33,290.35 114.10,291.17 112.00,291.10 C109.90,291.03 107.80,290.25 106.40,289.60 C105.00,288.95 104.18,287.97 103.60,287.20 C103.02,286.43 102.67,285.63 102.90,285.00 Z" fill="#7a7a7a" stroke="#3a3a3a" stroke-width="0.6" filter="url(#bl04)"/>
<rect x="212.90" y="275.90" width="28.00" height="20.80" fill="#c9c9c9"/>
<path d="M217.10,287.60 C217.97,286.77 220.98,284.75 222.70,284.00 C224.42,283.25 225.85,283.25 227.40,283.10 C228.95,282.95 230.37,282.75 232.00,283.10 C233.63,283.45 236.22,284.53 237.20,285.20 C238.18,285.87 238.37,286.40 237.90,287.10 C237.43,287.80 236.15,288.82 234.40,289.40 C232.65,289.98 229.75,290.40 227.40,290.60 C225.05,290.80 221.95,290.87 220.30,290.60 C218.65,290.33 218.03,289.50 217.50,289.00 C216.97,288.50 216.23,288.43 217.10,287.60 Z" fill="#5c5c5c" stroke="#3a3a3a" stroke-width="0.6" filter="url(#bl04)"/>
<line x1="21.90" y1="296.60" x2="46.00" y2="296.60" stroke="#f0f0f0" stroke-width="1.1"/>
<line x1="135.00" y1="295.80" x2="158.90" y2="295.80" stroke="#8a8a8a" stroke-width="1.0"/>
<text x="22.80" y="226.60" font-size="9.4" font-weight="bold" text-anchor="start" fill="#35a539">hsp-4::GFP</text>
<line x1="272.30" y1="213.20" x2="272.30" y2="283.60" stroke="#666" stroke-width="0.8"/>
<line x1="270.30" y1="283.10" x2="272.30" y2="283.10" stroke="#666" stroke-width="0.8"/>
<text x="270.10" y="285.50" font-size="6.9" font-weight="bold" text-anchor="end" fill="#333">0.0</text>
<line x1="270.30" y1="265.70" x2="272.30" y2="265.70" stroke="#666" stroke-width="0.8"/>
<text x="270.10" y="268.10" font-size="6.9" font-weight="bold" text-anchor="end" fill="#333">0.5</text>
<line x1="270.30" y1="248.30" x2="272.30" y2="248.30" stroke="#666" stroke-width="0.8"/>
<text x="270.10" y="250.70" font-size="6.9" font-weight="bold" text-anchor="end" fill="#333">1.0</text>
<line x1="270.30" y1="230.90" x2="272.30" y2="230.90" stroke="#666" stroke-width="0.8"/>
<text x="270.10" y="233.30" font-size="6.9" font-weight="bold" text-anchor="end" fill="#333">1.5</text>
<line x1="270.30" y1="213.50" x2="272.30" y2="213.50" stroke="#666" stroke-width="0.8"/>
<text x="270.10" y="215.90" font-size="6.9" font-weight="bold" text-anchor="end" fill="#333">2.0</text>
<line x1="271.00" y1="274.40" x2="272.30" y2="274.40" stroke="#666" stroke-width="0.8"/>
<line x1="271.00" y1="257.00" x2="272.30" y2="257.00" stroke="#666" stroke-width="0.8"/>
<line x1="271.00" y1="239.60" x2="272.30" y2="239.60" stroke="#666" stroke-width="0.8"/>
<line x1="271.00" y1="222.20" x2="272.30" y2="222.20" stroke="#666" stroke-width="0.8"/>
<line x1="271.80" y1="283.10" x2="348.70" y2="283.10" stroke="#777" stroke-width="0.8"/>
<line x1="294.00" y1="283.10" x2="294.00" y2="284.60" stroke="#777" stroke-width="0.8"/>
<line x1="326.85" y1="283.10" x2="326.85" y2="284.60" stroke="#777" stroke-width="0.8"/>
<rect x="282.80" y="266.74" width="22.40" height="16.36" fill="#ec3b43"/>
<rect x="316.10" y="253.52" width="21.50" height="29.58" fill="#3d7fba"/>
<circle cx="295.09" cy="266.26" r="1.1" fill="#111"/>
<circle cx="293.66" cy="260.23" r="1.1" fill="#111"/>
<circle cx="295.54" cy="265.76" r="1.1" fill="#111"/>
<circle cx="294.19" cy="268.84" r="1.1" fill="#111"/>
<circle cx="298.66" cy="264.55" r="1.1" fill="#111"/>
<circle cx="291.21" cy="270.13" r="1.1" fill="#111"/>
<circle cx="298.38" cy="270.19" r="1.1" fill="#111"/>
<circle cx="287.17" cy="263.84" r="1.1" fill="#111"/>
<circle cx="297.34" cy="258.38" r="1.1" fill="#111"/>
<circle cx="295.80" cy="264.29" r="1.1" fill="#111"/>
<circle cx="286.46" cy="269.19" r="1.1" fill="#111"/>
<circle cx="286.36" cy="265.57" r="1.1" fill="#111"/>
<circle cx="289.84" cy="268.77" r="1.1" fill="#111"/>
<circle cx="293.56" cy="271.53" r="1.1" fill="#111"/>
<circle cx="300.32" cy="266.36" r="1.1" fill="#111"/>
<circle cx="296.45" cy="265.66" r="1.1" fill="#111"/>
<circle cx="296.88" cy="265.83" r="1.1" fill="#111"/>
<circle cx="289.95" cy="266.22" r="1.1" fill="#111"/>
<circle cx="296.79" cy="257.28" r="1.1" fill="#111"/>
<circle cx="296.51" cy="261.84" r="1.1" fill="#111"/>
<circle cx="289.14" cy="267.46" r="1.1" fill="#111"/>
<circle cx="286.42" cy="267.71" r="1.1" fill="#111"/>
<circle cx="292.64" cy="262.93" r="1.1" fill="#111"/>
<circle cx="292.65" cy="261.74" r="1.1" fill="#111"/>
<circle cx="296.95" cy="259.31" r="1.1" fill="#111"/>
<circle cx="291.09" cy="273.11" r="1.1" fill="#111"/>
<circle cx="293.69" cy="260.54" r="1.1" fill="#111"/>
<circle cx="293.25" cy="258.47" r="1.1" fill="#111"/>
<circle cx="295.77" cy="270.52" r="1.1" fill="#111"/>
<circle cx="290.92" cy="262.76" r="1.1" fill="#111"/>
<circle cx="291.65" cy="270.25" r="1.1" fill="#111"/>
<circle cx="296.12" cy="259.11" r="1.1" fill="#111"/>
<circle cx="290.26" cy="269.75" r="1.1" fill="#111"/>
<circle cx="287.67" cy="270.02" r="1.1" fill="#111"/>
<circle cx="289.81" cy="262.50" r="1.1" fill="#111"/>
<circle cx="293.11" cy="265.27" r="1.1" fill="#111"/>
<circle cx="297.74" cy="268.77" r="1.1" fill="#111"/>
<circle cx="296.16" cy="269.55" r="1.1" fill="#111"/>
<circle cx="292.83" cy="269.77" r="1.1" fill="#111"/>
<circle cx="290.20" cy="268.51" r="1.1" fill="#111"/>
<circle cx="296.39" cy="258.87" r="1.1" fill="#111"/>
<circle cx="300.87" cy="267.56" r="1.1" fill="#111"/>
<circle cx="292.26" cy="268.53" r="1.1" fill="#111"/>
<circle cx="295.67" cy="261.61" r="1.1" fill="#111"/>
<circle cx="301.03" cy="270.03" r="1.1" fill="#111"/>
<circle cx="290.01" cy="268.50" r="1.1" fill="#111"/>
<circle cx="291.69" cy="262.84" r="1.1" fill="#111"/>
<circle cx="286.43" cy="267.64" r="1.1" fill="#111"/>
<circle cx="295.17" cy="270.20" r="1.1" fill="#111"/>
<circle cx="295.72" cy="268.18" r="1.1" fill="#111"/>
<circle cx="293.12" cy="266.95" r="1.1" fill="#111"/>
<circle cx="293.86" cy="259.28" r="1.1" fill="#111"/>
<circle cx="300.12" cy="265.12" r="1.1" fill="#111"/>
<circle cx="288.46" cy="268.86" r="1.1" fill="#111"/>
<circle cx="297.27" cy="260.58" r="1.1" fill="#111"/>
<circle cx="288.70" cy="268.11" r="1.1" fill="#111"/>
<circle cx="300.21" cy="263.28" r="1.1" fill="#111"/>
<circle cx="301.31" cy="268.70" r="1.1" fill="#111"/>
<circle cx="295.14" cy="261.11" r="1.1" fill="#111"/>
<circle cx="286.59" cy="266.53" r="1.1" fill="#111"/>
<circle cx="299.82" cy="271.29" r="1.1" fill="#111"/>
<circle cx="297.46" cy="268.22" r="1.1" fill="#111"/>
<circle cx="299.56" cy="268.03" r="1.1" fill="#111"/>
<circle cx="290.61" cy="264.90" r="1.1" fill="#111"/>
<circle cx="297.50" cy="268.95" r="1.1" fill="#111"/>
<circle cx="290.32" cy="270.60" r="1.1" fill="#111"/>
<circle cx="299.96" cy="265.27" r="1.1" fill="#111"/>
<circle cx="290.45" cy="264.72" r="1.1" fill="#111"/>
<circle cx="291.03" cy="260.38" r="1.1" fill="#111"/>
<circle cx="291.33" cy="272.00" r="1.1" fill="#111"/>
<circle cx="285.91" cy="266.32" r="1.1" fill="#111"/>
<circle cx="291.91" cy="268.94" r="1.1" fill="#111"/>
<circle cx="287.83" cy="265.14" r="1.1" fill="#111"/>
<circle cx="301.27" cy="267.03" r="1.1" fill="#111"/>
<circle cx="295.15" cy="258.47" r="1.1" fill="#111"/>
<line x1="294.00" y1="270.92" x2="294.00" y2="262.57" stroke="#222" stroke-width="0.6"/>
<line x1="291.00" y1="262.57" x2="297.00" y2="262.57" stroke="#222" stroke-width="0.6"/>
<circle cx="328.26" cy="250.64" r="1.1" fill="#111"/>
<circle cx="321.25" cy="262.36" r="1.1" fill="#111"/>
<circle cx="329.87" cy="268.31" r="1.1" fill="#111"/>
<circle cx="334.52" cy="250.43" r="1.1" fill="#111"/>
<circle cx="327.88" cy="268.01" r="1.1" fill="#111"/>
<circle cx="331.06" cy="254.45" r="1.1" fill="#111"/>
<circle cx="334.71" cy="257.66" r="1.1" fill="#111"/>
<circle cx="327.32" cy="264.84" r="1.1" fill="#111"/>
<circle cx="333.23" cy="249.65" r="1.1" fill="#111"/>
<circle cx="330.10" cy="249.65" r="1.1" fill="#111"/>
<circle cx="333.03" cy="248.31" r="1.1" fill="#111"/>
<circle cx="329.87" cy="256.96" r="1.1" fill="#111"/>
<circle cx="331.44" cy="245.10" r="1.1" fill="#111"/>
<circle cx="331.88" cy="255.65" r="1.1" fill="#111"/>
<circle cx="327.82" cy="246.36" r="1.1" fill="#111"/>
<circle cx="324.76" cy="251.94" r="1.1" fill="#111"/>
<circle cx="328.85" cy="252.71" r="1.1" fill="#111"/>
<circle cx="328.28" cy="264.62" r="1.1" fill="#111"/>
<circle cx="329.94" cy="239.74" r="1.1" fill="#111"/>
<circle cx="325.05" cy="249.85" r="1.1" fill="#111"/>
<circle cx="328.14" cy="249.69" r="1.1" fill="#111"/>
<circle cx="332.83" cy="255.21" r="1.1" fill="#111"/>
<circle cx="329.45" cy="264.46" r="1.1" fill="#111"/>
<circle cx="327.67" cy="267.35" r="1.1" fill="#111"/>
<circle cx="321.93" cy="254.48" r="1.1" fill="#111"/>
<circle cx="326.80" cy="250.49" r="1.1" fill="#111"/>
<circle cx="334.38" cy="252.14" r="1.1" fill="#111"/>
<circle cx="319.72" cy="259.12" r="1.1" fill="#111"/>
<circle cx="329.60" cy="258.06" r="1.1" fill="#111"/>
<circle cx="322.39" cy="260.49" r="1.1" fill="#111"/>
<circle cx="328.81" cy="244.92" r="1.1" fill="#111"/>
<circle cx="333.78" cy="255.19" r="1.1" fill="#111"/>
<circle cx="329.48" cy="257.48" r="1.1" fill="#111"/>
<circle cx="325.92" cy="260.60" r="1.1" fill="#111"/>
<circle cx="332.92" cy="247.99" r="1.1" fill="#111"/>
<circle cx="325.36" cy="245.82" r="1.1" fill="#111"/>
<circle cx="323.48" cy="252.71" r="1.1" fill="#111"/>
<circle cx="326.81" cy="262.50" r="1.1" fill="#111"/>
<circle cx="331.72" cy="247.14" r="1.1" fill="#111"/>
<circle cx="334.23" cy="250.22" r="1.1" fill="#111"/>
<circle cx="321.89" cy="258.61" r="1.1" fill="#111"/>
<circle cx="322.84" cy="255.02" r="1.1" fill="#111"/>
<circle cx="325.67" cy="260.18" r="1.1" fill="#111"/>
<circle cx="326.74" cy="251.93" r="1.1" fill="#111"/>
<circle cx="332.17" cy="257.74" r="1.1" fill="#111"/>
<circle cx="326.42" cy="240.94" r="1.1" fill="#111"/>
<circle cx="322.13" cy="264.86" r="1.1" fill="#111"/>
<circle cx="320.83" cy="246.06" r="1.1" fill="#111"/>
<circle cx="328.01" cy="250.27" r="1.1" fill="#111"/>
<circle cx="331.39" cy="257.88" r="1.1" fill="#111"/>
<circle cx="324.14" cy="268.20" r="1.1" fill="#111"/>
<circle cx="318.35" cy="254.95" r="1.1" fill="#111"/>
<circle cx="323.14" cy="247.35" r="1.1" fill="#111"/>
<circle cx="321.39" cy="262.34" r="1.1" fill="#111"/>
<circle cx="325.90" cy="251.86" r="1.1" fill="#111"/>
<circle cx="329.59" cy="251.85" r="1.1" fill="#111"/>
<circle cx="333.55" cy="247.95" r="1.1" fill="#111"/>
<circle cx="321.79" cy="250.77" r="1.1" fill="#111"/>
<circle cx="321.01" cy="254.58" r="1.1" fill="#111"/>
<circle cx="326.66" cy="269.05" r="1.1" fill="#111"/>
<circle cx="321.60" cy="250.15" r="1.1" fill="#111"/>
<circle cx="324.55" cy="258.72" r="1.1" fill="#111"/>
<circle cx="327.19" cy="250.51" r="1.1" fill="#111"/>
<circle cx="331.44" cy="252.14" r="1.1" fill="#111"/>
<circle cx="331.80" cy="256.11" r="1.1" fill="#111"/>
<circle cx="321.81" cy="244.90" r="1.1" fill="#111"/>
<circle cx="329.38" cy="243.83" r="1.1" fill="#111"/>
<circle cx="326.30" cy="262.71" r="1.1" fill="#111"/>
<circle cx="334.13" cy="251.93" r="1.1" fill="#111"/>
<circle cx="328.00" cy="256.44" r="1.1" fill="#111"/>
<circle cx="329.88" cy="218.72" r="1.1" fill="#111"/>
<circle cx="329.22" cy="219.07" r="1.1" fill="#111"/>
<circle cx="330.40" cy="232.64" r="1.1" fill="#111"/>
<circle cx="326.56" cy="233.68" r="1.1" fill="#111"/>
<circle cx="328.06" cy="236.12" r="1.1" fill="#111"/>
<circle cx="324.49" cy="239.60" r="1.1" fill="#111"/>
<circle cx="328.63" cy="240.64" r="1.1" fill="#111"/>
<line x1="326.85" y1="263.26" x2="326.85" y2="243.78" stroke="#222" stroke-width="0.6"/>
<line x1="323.85" y1="243.78" x2="329.85" y2="243.78" stroke="#222" stroke-width="0.6"/>
<text x="294.00" y="294.60" font-size="10" font-weight="bold" text-anchor="middle" fill="#000">CNT</text>
<text x="327.25" y="294.60" font-size="10" font-weight="bold" text-anchor="middle" fill="#000">TM</text>
<polyline points="293.40,256.80 293.40,213.40 326.70,213.40 326.70,217.90" fill="none" stroke="#555" stroke-width="0.8"/>
<path d="M301.40,205.50 L301.40,211.10 M298.98,206.90 L303.82,209.70 M303.82,206.90 L298.98,209.70 " stroke="#000" stroke-width="1.05" stroke-linecap="round" fill="none"/>
<circle cx="301.40" cy="208.30" r="1.26" fill="#000"/>
<path d="M307.50,205.50 L307.50,211.10 M305.08,206.90 L309.92,209.70 M309.92,206.90 L305.08,209.70 " stroke="#000" stroke-width="1.05" stroke-linecap="round" fill="none"/>
<circle cx="307.50" cy="208.30" r="1.26" fill="#000"/>
<path d="M313.50,205.50 L313.50,211.10 M311.08,206.90 L315.92,209.70 M315.92,206.90 L311.08,209.70 " stroke="#000" stroke-width="1.05" stroke-linecap="round" fill="none"/>
<circle cx="313.50" cy="208.30" r="1.26" fill="#000"/>
<path d="M319.60,205.50 L319.60,211.10 M317.18,206.90 L322.02,209.70 M322.02,206.90 L317.18,209.70 " stroke="#000" stroke-width="1.05" stroke-linecap="round" fill="none"/>
<circle cx="319.60" cy="208.30" r="1.26" fill="#000"/>
<text x="256.80" y="242.30" font-size="9.5" font-weight="bold" text-anchor="middle" fill="#000" transform="rotate(-90 256.8 242.3)">IFI (AU)</text>
<text x="4.90" y="319.20" font-size="15" font-weight="bold" text-anchor="start" fill="#000">E</text>
<text x="72.70" y="318.30" font-size="12.8" font-weight="normal" text-anchor="middle" fill="#000">CNT</text>
<text x="186.40" y="318.30" font-size="12.8" font-weight="normal" text-anchor="middle" fill="#000">TM</text>
<line x1="24.30" y1="320.60" x2="124.60" y2="320.60" stroke="#808080" stroke-width="1.7"/>
<line x1="137.00" y1="320.60" x2="236.60" y2="320.60" stroke="#808080" stroke-width="1.7"/>
<rect x="19.90" y="325.90" width="107.70" height="81.90" fill="#050505"/>
<rect x="133.00" y="325.90" width="108.00" height="81.90" fill="#050505"/>
<path d="M39.70,386.30 C38.77,384.88 40.42,379.27 41.00,375.00 C41.58,370.73 41.57,364.82 43.20,360.70 C44.83,356.58 47.22,353.02 50.80,350.30 C54.38,347.58 59.62,345.62 64.70,344.40 C69.78,343.18 76.22,342.77 81.30,343.00 C86.38,343.23 91.03,343.90 95.20,345.80 C99.37,347.70 103.30,351.23 106.30,354.40 C109.30,357.57 111.50,361.53 113.20,364.80 C114.90,368.07 115.35,370.88 116.50,374.00 C117.65,377.12 120.18,382.03 120.10,383.50 C120.02,384.97 119.47,383.95 116.00,382.80 C112.53,381.65 104.38,378.10 99.30,376.60 C94.22,375.10 90.12,374.15 85.50,373.80 C80.88,373.45 76.23,373.80 71.60,374.50 C66.97,375.20 61.87,376.50 57.70,378.00 C53.53,379.50 49.60,382.12 46.60,383.50 C43.60,384.88 40.63,387.72 39.70,386.30 Z" fill="#174f19" stroke="none" stroke-width="0" filter="url(#bl1)"/>
<path d="M44,366 Q80,340 113,370" fill="none" stroke="#34a436" stroke-width="1.3" filter="url(#bl04)" stroke-linecap="round"/>
<path d="M43,373 Q80,350 116,377" fill="none" stroke="#34a436" stroke-width="1.3" filter="url(#bl04)" stroke-linecap="round"/>
<path d="M42,379 Q80,360 117,381" fill="none" stroke="#34a436" stroke-width="1.3" filter="url(#bl04)" stroke-linecap="round"/>
<path d="M39.70,386.30 C38.77,384.88 40.42,379.27 41.00,375.00 C41.58,370.73 41.57,364.82 43.20,360.70 C44.83,356.58 47.22,353.02 50.80,350.30 C54.38,347.58 59.62,345.62 64.70,344.40 C69.78,343.18 76.22,342.77 81.30,343.00 C86.38,343.23 91.03,343.90 95.20,345.80 C99.37,347.70 103.30,351.23 106.30,354.40 C109.30,357.57 111.50,361.53 113.20,364.80 C114.90,368.07 115.35,370.88 116.50,374.00 C117.65,377.12 120.18,382.03 120.10,383.50 C120.02,384.97 119.47,383.95 116.00,382.80 C112.53,381.65 104.38,378.10 99.30,376.60 C94.22,375.10 90.12,374.15 85.50,373.80 C80.88,373.45 76.23,373.80 71.60,374.50 C66.97,375.20 61.87,376.50 57.70,378.00 C53.53,379.50 49.60,382.12 46.60,383.50 C43.60,384.88 40.63,387.72 39.70,386.30 Z" fill="none" stroke="#40c440" stroke-width="1.4" filter="url(#bl04)"/>
<circle cx="44.00" cy="361.00" r="1.3" fill="#3cc03c" filter="url(#bl06)"/>
<circle cx="45.00" cy="369.00" r="1.3" fill="#3cc03c" filter="url(#bl06)"/>
<circle cx="44.00" cy="377.00" r="1.3" fill="#3cc03c" filter="url(#bl06)"/>
<circle cx="42.00" cy="383.50" r="1.3" fill="#3cc03c" filter="url(#bl06)"/>
<path d="M146.20,351.60 C148.63,350.10 156.05,353.80 160.80,353.70 C165.55,353.60 170.08,352.03 174.70,351.00 C179.32,349.97 183.88,348.13 188.50,347.50 C193.12,346.87 198.00,346.62 202.40,347.20 C206.80,347.78 211.20,349.22 214.90,351.00 C218.60,352.78 221.95,355.72 224.60,357.90 C227.25,360.08 230.57,362.37 230.80,364.10 C231.03,365.83 228.65,366.68 226.00,368.30 C223.35,369.92 219.52,371.95 214.90,373.80 C210.28,375.65 203.85,377.90 198.30,379.40 C192.75,380.90 186.70,381.88 181.60,382.80 C176.50,383.72 171.87,385.00 167.70,384.90 C163.53,384.80 159.60,383.82 156.60,382.20 C153.60,380.58 151.43,378.45 149.70,375.20 C147.97,371.95 146.78,366.63 146.20,362.70 C145.62,358.77 143.77,353.10 146.20,351.60 Z" fill="#0b2a0d" stroke="none" stroke-width="0" filter="url(#bl1)"/>
<path d="M150,356 Q175,352 205,355" fill="none" stroke="#24852a" stroke-width="1.3" filter="url(#bl04)" stroke-linecap="round"/>
<path d="M149,361 Q180,358 212,362" fill="none" stroke="#24852a" stroke-width="1.3" filter="url(#bl04)" stroke-linecap="round"/>
<path d="M149,367 Q180,366 208,368" fill="none" stroke="#24852a" stroke-width="1.3" filter="url(#bl04)" stroke-linecap="round"/>
<path d="M151,373 Q175,375 200,374" fill="none" stroke="#24852a" stroke-width="1.3" filter="url(#bl04)" stroke-linecap="round"/>
<path d="M146.20,351.60 C148.63,350.10 156.05,353.80 160.80,353.70 C165.55,353.60 170.08,352.03 174.70,351.00 C179.32,349.97 183.88,348.13 188.50,347.50 C193.12,346.87 198.00,346.62 202.40,347.20 C206.80,347.78 211.20,349.22 214.90,351.00 C218.60,352.78 221.95,355.72 224.60,357.90 C227.25,360.08 230.57,362.37 230.80,364.10 C231.03,365.83 228.65,366.68 226.00,368.30 C223.35,369.92 219.52,371.95 214.90,373.80 C210.28,375.65 203.85,377.90 198.30,379.40 C192.75,380.90 186.70,381.88 181.60,382.80 C176.50,383.72 171.87,385.00 167.70,384.90 C163.53,384.80 159.60,383.82 156.60,382.20 C153.60,380.58 151.43,378.45 149.70,375.20 C147.97,371.95 146.78,366.63 146.20,362.70 C145.62,358.77 143.77,353.10 146.20,351.60 Z" fill="none" stroke="#41cc41" stroke-width="1.5" filter="url(#bl04)"/>
<line x1="147.50" y1="353.50" x2="158.00" y2="355.50" stroke="#3fcf3f" stroke-width="2.4" stroke-linecap="round" filter="url(#bl06)"/>
<line x1="147.50" y1="359.00" x2="159.00" y2="361.00" stroke="#3fcf3f" stroke-width="2.4" stroke-linecap="round" filter="url(#bl06)"/>
<line x1="148.00" y1="365.00" x2="160.00" y2="367.00" stroke="#3fcf3f" stroke-width="2.5" stroke-linecap="round" filter="url(#bl06)"/>
<line x1="149.50" y1="371.50" x2="160.00" y2="373.50" stroke="#3fcf3f" stroke-width="2.8" stroke-linecap="round" filter="url(#bl06)"/>
<line x1="152.00" y1="377.50" x2="162.00" y2="379.50" stroke="#3fcf3f" stroke-width="2.6" stroke-linecap="round" filter="url(#bl06)"/>
<rect x="99.90" y="387.00" width="28.00" height="20.60" fill="#c9c9c9"/>
<path d="M105.00,402.50 C104.85,401.48 105.62,396.92 106.40,395.20 C107.18,393.48 108.13,392.90 109.70,392.20 C111.27,391.50 113.85,390.93 115.80,391.00 C117.75,391.07 120.00,391.75 121.40,392.60 C122.80,393.45 123.43,394.62 124.20,396.10 C124.97,397.58 126.32,400.75 126.00,401.50 C125.68,402.25 123.85,400.95 122.30,400.60 C120.75,400.25 118.42,399.55 116.70,399.40 C114.98,399.25 113.57,399.38 112.00,399.70 C110.43,400.02 108.47,400.83 107.30,401.30 C106.13,401.77 105.15,403.52 105.00,402.50 Z" fill="#6a6a6a" stroke="#3a3a3a" stroke-width="0.6" filter="url(#bl04)"/>
<rect x="212.90" y="387.00" width="28.00" height="20.60" fill="#c9c9c9"/>
<path d="M216.10,393.30 C216.75,392.98 218.82,393.87 220.30,393.80 C221.78,393.73 223.43,393.17 225.00,392.90 C226.57,392.63 228.13,392.17 229.70,392.20 C231.27,392.23 232.88,392.40 234.40,393.10 C235.92,393.80 238.65,395.42 238.80,396.40 C238.95,397.38 236.82,398.38 235.30,399.00 C233.78,399.62 231.57,399.72 229.70,400.10 C227.83,400.48 225.67,401.07 224.10,401.30 C222.53,401.53 221.40,401.88 220.30,401.50 C219.20,401.12 218.15,399.97 217.50,399.00 C216.85,398.03 216.63,396.65 216.40,395.70 C216.17,394.75 215.45,393.62 216.10,393.30 Z" fill="#6a6a6a" stroke="#3a3a3a" stroke-width="0.6" filter="url(#bl04)"/>
<line x1="21.90" y1="406.70" x2="46.00" y2="406.70" stroke="#f0f0f0" stroke-width="1.1"/>
<line x1="134.40" y1="405.60" x2="158.90" y2="405.60" stroke="#cfcfcf" stroke-width="1.1"/>
<text x="22.30" y="336.70" font-size="9.6" font-weight="bold" text-anchor="start" fill="#35a539">hsp-6p::GFP</text>
<line x1="269.90" y1="320.60" x2="269.90" y2="395.60" stroke="#666" stroke-width="0.8"/>
<line x1="267.90" y1="395.10" x2="269.90" y2="395.10" stroke="#666" stroke-width="0.8"/>
<text x="267.70" y="397.50" font-size="6.9" font-weight="bold" text-anchor="end" fill="#333">0.0</text>
<line x1="267.90" y1="376.55" x2="269.90" y2="376.55" stroke="#666" stroke-width="0.8"/>
<text x="267.70" y="378.95" font-size="6.9" font-weight="bold" text-anchor="end" fill="#333">0.5</text>
<line x1="267.90" y1="358.00" x2="269.90" y2="358.00" stroke="#666" stroke-width="0.8"/>
<text x="267.70" y="360.40" font-size="6.9" font-weight="bold" text-anchor="end" fill="#333">1.0</text>
<line x1="267.90" y1="339.45" x2="269.90" y2="339.45" stroke="#666" stroke-width="0.8"/>
<text x="267.70" y="341.85" font-size="6.9" font-weight="bold" text-anchor="end" fill="#333">1.5</text>
<line x1="267.90" y1="320.90" x2="269.90" y2="320.90" stroke="#666" stroke-width="0.8"/>
<text x="267.70" y="323.30" font-size="6.9" font-weight="bold" text-anchor="end" fill="#333">2.0</text>
<line x1="268.60" y1="385.83" x2="269.90" y2="385.83" stroke="#666" stroke-width="0.8"/>
<line x1="268.60" y1="367.28" x2="269.90" y2="367.28" stroke="#666" stroke-width="0.8"/>
<line x1="268.60" y1="348.73" x2="269.90" y2="348.73" stroke="#666" stroke-width="0.8"/>
<line x1="268.60" y1="330.18" x2="269.90" y2="330.18" stroke="#666" stroke-width="0.8"/>
<line x1="269.40" y1="395.10" x2="347.60" y2="395.10" stroke="#777" stroke-width="0.8"/>
<line x1="292.15" y1="395.10" x2="292.15" y2="396.60" stroke="#777" stroke-width="0.8"/>
<line x1="325.40" y1="395.10" x2="325.40" y2="396.60" stroke="#777" stroke-width="0.8"/>
<rect x="280.90" y="372.84" width="22.50" height="22.26" fill="#ec3b43"/>
<rect x="314.10" y="358.37" width="22.60" height="36.73" fill="#3d7fba"/>
<circle cx="296.26" cy="371.49" r="1.1" fill="#111"/>
<circle cx="298.25" cy="369.31" r="1.1" fill="#111"/>
<circle cx="298.45" cy="370.08" r="1.1" fill="#111"/>
<circle cx="291.85" cy="379.86" r="1.1" fill="#111"/>
<circle cx="293.57" cy="366.41" r="1.1" fill="#111"/>
<circle cx="287.88" cy="367.45" r="1.1" fill="#111"/>
<circle cx="287.41" cy="373.04" r="1.1" fill="#111"/>
<circle cx="293.50" cy="372.32" r="1.1" fill="#111"/>
<circle cx="290.01" cy="380.60" r="1.1" fill="#111"/>
<circle cx="298.66" cy="375.11" r="1.1" fill="#111"/>
<circle cx="287.24" cy="369.73" r="1.1" fill="#111"/>
<circle cx="287.19" cy="369.28" r="1.1" fill="#111"/>
<circle cx="285.77" cy="371.55" r="1.1" fill="#111"/>
<circle cx="294.42" cy="381.56" r="1.1" fill="#111"/>
<circle cx="288.09" cy="376.05" r="1.1" fill="#111"/>
<circle cx="294.90" cy="364.99" r="1.1" fill="#111"/>
<circle cx="299.45" cy="374.99" r="1.1" fill="#111"/>
<circle cx="295.40" cy="372.36" r="1.1" fill="#111"/>
<circle cx="298.39" cy="376.12" r="1.1" fill="#111"/>
<circle cx="299.55" cy="370.71" r="1.1" fill="#111"/>
<circle cx="289.89" cy="367.60" r="1.1" fill="#111"/>
<circle cx="286.45" cy="374.15" r="1.1" fill="#111"/>
<circle cx="286.60" cy="377.06" r="1.1" fill="#111"/>
<circle cx="293.80" cy="374.84" r="1.1" fill="#111"/>
<circle cx="293.30" cy="381.34" r="1.1" fill="#111"/>
<circle cx="288.98" cy="374.41" r="1.1" fill="#111"/>
<circle cx="291.89" cy="368.95" r="1.1" fill="#111"/>
<circle cx="291.84" cy="374.67" r="1.1" fill="#111"/>
<circle cx="285.24" cy="370.54" r="1.1" fill="#111"/>
<circle cx="288.38" cy="365.33" r="1.1" fill="#111"/>
<circle cx="297.23" cy="369.95" r="1.1" fill="#111"/>
<circle cx="294.43" cy="380.33" r="1.1" fill="#111"/>
<circle cx="293.50" cy="374.10" r="1.1" fill="#111"/>
<circle cx="288.90" cy="380.85" r="1.1" fill="#111"/>
<circle cx="298.35" cy="376.48" r="1.1" fill="#111"/>
<circle cx="295.72" cy="376.24" r="1.1" fill="#111"/>
<circle cx="296.59" cy="366.78" r="1.1" fill="#111"/>
<circle cx="289.71" cy="374.34" r="1.1" fill="#111"/>
<circle cx="297.25" cy="372.51" r="1.1" fill="#111"/>
<circle cx="295.06" cy="377.76" r="1.1" fill="#111"/>
<circle cx="297.09" cy="369.28" r="1.1" fill="#111"/>
<circle cx="296.18" cy="379.58" r="1.1" fill="#111"/>
<circle cx="290.37" cy="378.11" r="1.1" fill="#111"/>
<circle cx="299.34" cy="371.62" r="1.1" fill="#111"/>
<circle cx="299.24" cy="374.39" r="1.1" fill="#111"/>
<circle cx="288.73" cy="372.31" r="1.1" fill="#111"/>
<circle cx="286.89" cy="374.66" r="1.1" fill="#111"/>
<circle cx="288.37" cy="378.41" r="1.1" fill="#111"/>
<circle cx="300.04" cy="370.73" r="1.1" fill="#111"/>
<circle cx="286.21" cy="376.79" r="1.1" fill="#111"/>
<circle cx="292.39" cy="364.75" r="1.1" fill="#111"/>
<circle cx="287.48" cy="373.68" r="1.1" fill="#111"/>
<circle cx="297.85" cy="371.80" r="1.1" fill="#111"/>
<circle cx="290.70" cy="373.17" r="1.1" fill="#111"/>
<circle cx="296.28" cy="378.99" r="1.1" fill="#111"/>
<circle cx="292.09" cy="379.72" r="1.1" fill="#111"/>
<circle cx="287.43" cy="368.62" r="1.1" fill="#111"/>
<circle cx="298.94" cy="370.19" r="1.1" fill="#111"/>
<circle cx="297.01" cy="371.41" r="1.1" fill="#111"/>
<circle cx="291.39" cy="377.79" r="1.1" fill="#111"/>
<circle cx="296.58" cy="377.00" r="1.1" fill="#111"/>
<circle cx="291.40" cy="374.92" r="1.1" fill="#111"/>
<circle cx="294.01" cy="363.55" r="1.1" fill="#111"/>
<circle cx="291.79" cy="365.29" r="1.1" fill="#111"/>
<circle cx="296.50" cy="372.86" r="1.1" fill="#111"/>
<circle cx="288.21" cy="372.95" r="1.1" fill="#111"/>
<circle cx="285.88" cy="373.70" r="1.1" fill="#111"/>
<circle cx="300.61" cy="373.98" r="1.1" fill="#111"/>
<circle cx="293.26" cy="365.90" r="1.1" fill="#111"/>
<circle cx="289.10" cy="372.75" r="1.1" fill="#111"/>
<circle cx="289.61" cy="378.16" r="1.1" fill="#111"/>
<circle cx="297.32" cy="369.50" r="1.1" fill="#111"/>
<circle cx="297.03" cy="374.15" r="1.1" fill="#111"/>
<circle cx="294.92" cy="369.60" r="1.1" fill="#111"/>
<circle cx="296.39" cy="371.02" r="1.1" fill="#111"/>
<circle cx="291.06" cy="358.00" r="1.1" fill="#111"/>
<circle cx="293.79" cy="358.74" r="1.1" fill="#111"/>
<line x1="292.15" y1="376.55" x2="292.15" y2="369.13" stroke="#222" stroke-width="0.6"/>
<line x1="289.15" y1="369.13" x2="295.15" y2="369.13" stroke="#222" stroke-width="0.6"/>
<circle cx="325.18" cy="363.46" r="1.1" fill="#111"/>
<circle cx="328.28" cy="353.20" r="1.1" fill="#111"/>
<circle cx="332.26" cy="363.15" r="1.1" fill="#111"/>
<circle cx="326.79" cy="355.97" r="1.1" fill="#111"/>
<circle cx="325.72" cy="374.48" r="1.1" fill="#111"/>
<circle cx="327.90" cy="364.23" r="1.1" fill="#111"/>
<circle cx="331.14" cy="359.54" r="1.1" fill="#111"/>
<circle cx="330.53" cy="356.02" r="1.1" fill="#111"/>
<circle cx="327.75" cy="361.90" r="1.1" fill="#111"/>
<circle cx="330.55" cy="353.99" r="1.1" fill="#111"/>
<circle cx="331.02" cy="361.85" r="1.1" fill="#111"/>
<circle cx="327.83" cy="350.24" r="1.1" fill="#111"/>
<circle cx="329.52" cy="345.13" r="1.1" fill="#111"/>
<circle cx="325.95" cy="358.51" r="1.1" fill="#111"/>
<circle cx="329.70" cy="366.65" r="1.1" fill="#111"/>
<circle cx="325.15" cy="347.51" r="1.1" fill="#111"/>
<circle cx="329.03" cy="355.07" r="1.1" fill="#111"/>
<circle cx="320.20" cy="354.17" r="1.1" fill="#111"/>
<circle cx="326.60" cy="352.92" r="1.1" fill="#111"/>
<circle cx="324.06" cy="355.64" r="1.1" fill="#111"/>
<circle cx="330.23" cy="356.51" r="1.1" fill="#111"/>
<circle cx="329.23" cy="356.24" r="1.1" fill="#111"/>
<circle cx="322.67" cy="372.96" r="1.1" fill="#111"/>
<circle cx="328.07" cy="359.96" r="1.1" fill="#111"/>
<circle cx="327.99" cy="365.08" r="1.1" fill="#111"/>
<circle cx="317.39" cy="356.36" r="1.1" fill="#111"/>
<circle cx="320.41" cy="359.37" r="1.1" fill="#111"/>
<circle cx="321.98" cy="371.22" r="1.1" fill="#111"/>
<circle cx="320.36" cy="362.59" r="1.1" fill="#111"/>
<circle cx="319.18" cy="365.82" r="1.1" fill="#111"/>
<circle cx="323.23" cy="359.49" r="1.1" fill="#111"/>
<circle cx="327.00" cy="356.75" r="1.1" fill="#111"/>
<circle cx="331.18" cy="364.57" r="1.1" fill="#111"/>
<circle cx="324.90" cy="376.62" r="1.1" fill="#111"/>
<circle cx="324.04" cy="363.52" r="1.1" fill="#111"/>
<circle cx="329.18" cy="368.44" r="1.1" fill="#111"/>
<circle cx="317.62" cy="361.34" r="1.1" fill="#111"/>
<circle cx="318.21" cy="356.71" r="1.1" fill="#111"/>
<circle cx="322.39" cy="358.02" r="1.1" fill="#111"/>
<circle cx="333.75" cy="357.35" r="1.1" fill="#111"/>
<circle cx="324.26" cy="351.86" r="1.1" fill="#111"/>
<circle cx="327.42" cy="352.02" r="1.1" fill="#111"/>
<circle cx="319.43" cy="361.43" r="1.1" fill="#111"/>
<circle cx="326.55" cy="357.06" r="1.1" fill="#111"/>
<circle cx="330.08" cy="346.43" r="1.1" fill="#111"/>
<circle cx="322.75" cy="356.81" r="1.1" fill="#111"/>
<circle cx="319.29" cy="349.39" r="1.1" fill="#111"/>
<circle cx="326.14" cy="368.72" r="1.1" fill="#111"/>
<circle cx="319.03" cy="356.68" r="1.1" fill="#111"/>
<circle cx="332.25" cy="356.39" r="1.1" fill="#111"/>
<circle cx="324.25" cy="361.29" r="1.1" fill="#111"/>
<circle cx="322.46" cy="364.88" r="1.1" fill="#111"/>
<circle cx="324.29" cy="345.42" r="1.1" fill="#111"/>
<circle cx="329.47" cy="346.19" r="1.1" fill="#111"/>
<circle cx="321.07" cy="357.06" r="1.1" fill="#111"/>
<circle cx="325.37" cy="344.72" r="1.1" fill="#111"/>
<circle cx="322.25" cy="360.47" r="1.1" fill="#111"/>
<circle cx="325.33" cy="344.41" r="1.1" fill="#111"/>
<circle cx="325.05" cy="363.33" r="1.1" fill="#111"/>
<circle cx="326.81" cy="368.18" r="1.1" fill="#111"/>
<circle cx="321.71" cy="359.91" r="1.1" fill="#111"/>
<circle cx="330.26" cy="352.88" r="1.1" fill="#111"/>
<circle cx="325.63" cy="374.29" r="1.1" fill="#111"/>
<circle cx="331.94" cy="363.64" r="1.1" fill="#111"/>
<circle cx="321.62" cy="352.88" r="1.1" fill="#111"/>
<circle cx="320.25" cy="363.79" r="1.1" fill="#111"/>
<circle cx="323.72" cy="343.92" r="1.1" fill="#111"/>
<circle cx="324.95" cy="356.82" r="1.1" fill="#111"/>
<circle cx="327.19" cy="356.07" r="1.1" fill="#111"/>
<circle cx="319.44" cy="353.86" r="1.1" fill="#111"/>
<circle cx="327.48" cy="332.77" r="1.1" fill="#111"/>
<circle cx="323.81" cy="335.74" r="1.1" fill="#111"/>
<circle cx="325.67" cy="336.48" r="1.1" fill="#111"/>
<circle cx="324.09" cy="338.71" r="1.1" fill="#111"/>
<circle cx="323.77" cy="339.45" r="1.1" fill="#111"/>
<line x1="325.40" y1="367.65" x2="325.40" y2="349.10" stroke="#222" stroke-width="0.6"/>
<line x1="322.40" y1="349.10" x2="328.40" y2="349.10" stroke="#222" stroke-width="0.6"/>
<text x="292.15" y="405.20" font-size="10" font-weight="bold" text-anchor="middle" fill="#000">CNT</text>
<text x="325.80" y="405.20" font-size="10" font-weight="bold" text-anchor="middle" fill="#000">TM</text>
<polyline points="291.50,350.80 291.50,326.50 325.40,326.50 325.40,330.20" fill="none" stroke="#555" stroke-width="0.8"/>
<path d="M289.4,353.3 L291.4,356.3 L293.4,353.3" fill="none" stroke="#111" stroke-width="1.2"/>
<path d="M299.40,319.30 L299.40,324.90 M296.98,320.70 L301.82,323.50 M301.82,320.70 L296.98,323.50 " stroke="#000" stroke-width="1.05" stroke-linecap="round" fill="none"/>
<circle cx="299.40" cy="322.10" r="1.26" fill="#000"/>
<path d="M305.50,319.30 L305.50,324.90 M303.08,320.70 L307.92,323.50 M307.92,320.70 L303.08,323.50 " stroke="#000" stroke-width="1.05" stroke-linecap="round" fill="none"/>
<circle cx="305.50" cy="322.10" r="1.26" fill="#000"/>
<path d="M311.50,319.30 L311.50,324.90 M309.08,320.70 L313.92,323.50 M313.92,320.70 L309.08,323.50 " stroke="#000" stroke-width="1.05" stroke-linecap="round" fill="none"/>
<circle cx="311.50" cy="322.10" r="1.26" fill="#000"/>
<path d="M317.50,319.30 L317.50,324.90 M315.08,320.70 L319.92,323.50 M319.92,320.70 L315.08,323.50 " stroke="#000" stroke-width="1.05" stroke-linecap="round" fill="none"/>
<circle cx="317.50" cy="322.10" r="1.26" fill="#000"/>
<text x="254.70" y="352.80" font-size="9.5" font-weight="bold" text-anchor="middle" fill="#000" transform="rotate(-90 254.7 352.8)">IFI (AU)</text>
<text x="363.40" y="284.90" font-size="16.8" font-weight="bold" text-anchor="start" fill="#000">F</text>
<text x="414.60" y="283.20" font-size="9.2" font-weight="bold" text-anchor="middle" fill="#000">CNT</text>
<text x="462.60" y="283.20" font-size="9.2" font-weight="bold" text-anchor="middle" fill="#000">TM</text>
<line x1="390.80" y1="286.90" x2="436.80" y2="286.90" stroke="#444" stroke-width="0.9"/>
<line x1="439.40" y1="286.90" x2="487.60" y2="286.90" stroke="#444" stroke-width="0.9"/>
<rect x="389.00" y="290.10" width="100.90" height="20.80" fill="#d2d2d2"/>
<text x="355.00" y="298.40" font-size="9" font-weight="normal" text-anchor="start" fill="#000">XBP1u</text>
<text x="355.00" y="309.50" font-size="9" font-weight="normal" text-anchor="start" fill="#000">XBP1s</text>
<rect x="389.70" y="296.60" width="11.10" height="2.30" fill="#1a1a1a" rx="1" filter="url(#bl04)"/>
<rect x="389.70" y="301.40" width="11.10" height="3.20" fill="#0a0a0a" rx="1.3" filter="url(#bl04)"/>
<rect x="406.30" y="296.60" width="11.80" height="2.30" fill="#1a1a1a" rx="1" filter="url(#bl04)"/>
<rect x="406.30" y="301.40" width="11.80" height="3.20" fill="#0a0a0a" rx="1.3" filter="url(#bl04)"/>
<rect x="423.70" y="296.60" width="11.70" height="2.30" fill="#1a1a1a" rx="1" filter="url(#bl04)"/>
<rect x="423.70" y="301.40" width="11.70" height="3.20" fill="#0a0a0a" rx="1.3" filter="url(#bl04)"/>
<rect x="440.40" y="291.40" width="11.50" height="1.50" fill="#a8a8a8" filter="url(#bl04)"/>
<rect x="440.40" y="295.00" width="11.50" height="2.30" fill="#3a3a3a" rx="1" filter="url(#bl04)"/>
<rect x="440.40" y="300.70" width="11.50" height="3.30" fill="#0a0a0a" rx="1.3" filter="url(#bl04)"/>
<rect x="457.00" y="291.40" width="12.10" height="1.50" fill="#a8a8a8" filter="url(#bl04)"/>
<rect x="457.00" y="295.00" width="12.10" height="2.30" fill="#3a3a3a" rx="1" filter="url(#bl04)"/>
<rect x="457.00" y="300.70" width="12.10" height="3.30" fill="#0a0a0a" rx="1.3" filter="url(#bl04)"/>
<rect x="474.10" y="291.40" width="12.10" height="1.50" fill="#a8a8a8" filter="url(#bl04)"/>
<rect x="474.10" y="295.00" width="12.10" height="2.30" fill="#3a3a3a" rx="1" filter="url(#bl04)"/>
<rect x="474.10" y="300.70" width="12.10" height="3.30" fill="#0a0a0a" rx="1.3" filter="url(#bl04)"/>
<line x1="485.50" y1="295.70" x2="493.80" y2="295.70" stroke="#111" stroke-width="0.8"/>
<line x1="485.50" y1="302.20" x2="493.80" y2="302.20" stroke="#111" stroke-width="0.8"/>
<text x="495.80" y="297.70" font-size="8.8" font-weight="normal" text-anchor="start" fill="#000">285 bp</text>
<text x="495.80" y="304.70" font-size="8.8" font-weight="normal" text-anchor="start" fill="#000">259 bp</text>
<line x1="413.60" y1="327.50" x2="413.60" y2="389.70" stroke="#777" stroke-width="0.8"/>
<line x1="411.60" y1="389.20" x2="413.60" y2="389.20" stroke="#777" stroke-width="0.8"/>
<text x="411.00" y="391.50" font-size="6.5" font-weight="bold" text-anchor="end" fill="#333">0.0</text>
<line x1="411.60" y1="368.74" x2="413.60" y2="368.74" stroke="#777" stroke-width="0.8"/>
<text x="411.00" y="371.04" font-size="6.5" font-weight="bold" text-anchor="end" fill="#333">0.5</text>
<line x1="411.60" y1="348.27" x2="413.60" y2="348.27" stroke="#777" stroke-width="0.8"/>
<text x="411.00" y="350.57" font-size="6.5" font-weight="bold" text-anchor="end" fill="#333">1.0</text>
<line x1="411.60" y1="327.81" x2="413.60" y2="327.81" stroke="#777" stroke-width="0.8"/>
<text x="411.00" y="330.11" font-size="6.5" font-weight="bold" text-anchor="end" fill="#333">1.5</text>
<line x1="412.30" y1="378.97" x2="413.60" y2="378.97" stroke="#777" stroke-width="0.8"/>
<line x1="412.30" y1="358.50" x2="413.60" y2="358.50" stroke="#777" stroke-width="0.8"/>
<line x1="412.30" y1="338.04" x2="413.60" y2="338.04" stroke="#777" stroke-width="0.8"/>
<line x1="413.10" y1="389.20" x2="487.00" y2="389.20" stroke="#666" stroke-width="0.8"/>
<line x1="434.75" y1="389.20" x2="434.75" y2="390.70" stroke="#666" stroke-width="0.8"/>
<line x1="465.95" y1="389.20" x2="465.95" y2="390.70" stroke="#666" stroke-width="0.8"/>
<rect x="424.30" y="346.80" width="20.90" height="42.40" fill="#ec3b43"/>
<rect x="455.70" y="331.90" width="20.50" height="57.30" fill="#3d7fba"/>
<line x1="434.75" y1="348.43" x2="434.75" y2="345.16" stroke="#222" stroke-width="0.7"/>
<line x1="430.75" y1="345.16" x2="438.75" y2="345.16" stroke="#333" stroke-width="0.7"/>
<line x1="430.75" y1="348.43" x2="438.75" y2="348.43" stroke="#333" stroke-width="0.7"/>
<circle cx="434.75" cy="348.27" r="1.1" fill="#000"/>
<circle cx="434.75" cy="347.45" r="1.1" fill="#000"/>
<circle cx="434.75" cy="345.40" r="1.1" fill="#000"/>
<line x1="465.95" y1="334.15" x2="465.95" y2="329.65" stroke="#222" stroke-width="0.7"/>
<line x1="461.95" y1="329.65" x2="469.95" y2="329.65" stroke="#333" stroke-width="0.7"/>
<line x1="461.95" y1="334.15" x2="469.95" y2="334.15" stroke="#333" stroke-width="0.7"/>
<circle cx="465.95" cy="335.17" r="1.1" fill="#000"/>
<circle cx="465.95" cy="332.72" r="1.1" fill="#000"/>
<circle cx="465.95" cy="329.85" r="1.1" fill="#000"/>
<polyline points="434.75,342.80 434.75,326.50 465.95,326.50 465.95,328.50" fill="none" stroke="#aaa" stroke-width="0.9"/>
<path d="M448.40,319.40 L448.40,324.80 M446.06,320.75 L450.74,323.45 M450.74,320.75 L446.06,323.45 " stroke="#000" stroke-width="1.05" stroke-linecap="round" fill="none"/>
<circle cx="448.40" cy="322.10" r="1.215" fill="#000"/>
<path d="M453.90,319.40 L453.90,324.80 M451.56,320.75 L456.24,323.45 M456.24,320.75 L451.56,323.45 " stroke="#000" stroke-width="1.05" stroke-linecap="round" fill="none"/>
<circle cx="453.90" cy="322.10" r="1.215" fill="#000"/>
<text x="398.40" y="358.70" font-size="8.1" font-weight="bold" text-anchor="middle" fill="#000" transform="rotate(-90 398.4 358.7)">XBP1s / XBP1u (AU)</text>
<text x="435.90" y="398.50" font-size="9.6" font-weight="bold" text-anchor="middle" fill="#000">CNT</text>
<text x="466.50" y="398.50" font-size="9.6" font-weight="bold" text-anchor="middle" fill="#000">TM</text>
<text x="529.90" y="11.60" font-size="15" font-weight="bold" text-anchor="start" fill="#000">G</text>
<text x="620.90" y="20.40" font-size="9.1" font-weight="bold" text-anchor="middle" fill="#000">Sodium Arsenite [10mM]</text>
<line x1="555.40" y1="22.60" x2="555.40" y2="105.30" stroke="#000" stroke-width="0.9"/>
<line x1="553.20" y1="104.80" x2="555.40" y2="104.80" stroke="#000" stroke-width="0.9"/>
<text x="552.60" y="107.00" font-size="6.3" font-weight="bold" text-anchor="end" fill="#000">0</text>
<line x1="553.20" y1="88.42" x2="555.40" y2="88.42" stroke="#000" stroke-width="0.9"/>
<text x="552.60" y="90.62" font-size="6.3" font-weight="bold" text-anchor="end" fill="#000">20</text>
<line x1="553.20" y1="72.04" x2="555.40" y2="72.04" stroke="#000" stroke-width="0.9"/>
<text x="552.60" y="74.24" font-size="6.3" font-weight="bold" text-anchor="end" fill="#000">40</text>
<line x1="553.20" y1="55.66" x2="555.40" y2="55.66" stroke="#000" stroke-width="0.9"/>
<text x="552.60" y="57.86" font-size="6.3" font-weight="bold" text-anchor="end" fill="#000">60</text>
<line x1="553.20" y1="39.28" x2="555.40" y2="39.28" stroke="#000" stroke-width="0.9"/>
<text x="552.60" y="41.48" font-size="6.3" font-weight="bold" text-anchor="end" fill="#000">80</text>
<line x1="553.20" y1="22.90" x2="555.40" y2="22.90" stroke="#000" stroke-width="0.9"/>
<text x="552.60" y="25.10" font-size="6.3" font-weight="bold" text-anchor="end" fill="#000">100</text>
<line x1="554.00" y1="96.61" x2="555.40" y2="96.61" stroke="#000" stroke-width="0.9"/>
<line x1="554.00" y1="80.23" x2="555.40" y2="80.23" stroke="#000" stroke-width="0.9"/>
<line x1="554.00" y1="63.85" x2="555.40" y2="63.85" stroke="#000" stroke-width="0.9"/>
<line x1="554.00" y1="47.47" x2="555.40" y2="47.47" stroke="#000" stroke-width="0.9"/>
<line x1="554.00" y1="31.09" x2="555.40" y2="31.09" stroke="#000" stroke-width="0.9"/>
<line x1="554.90" y1="104.80" x2="678.18" y2="104.80" stroke="#000" stroke-width="0.9"/>
<line x1="555.40" y1="104.80" x2="555.40" y2="107.00" stroke="#000" stroke-width="0.9"/>
<text x="555.40" y="113.80" font-size="6.3" font-weight="bold" text-anchor="middle" fill="#000">0</text>
<line x1="572.94" y1="104.80" x2="572.94" y2="107.00" stroke="#000" stroke-width="0.9"/>
<text x="572.94" y="113.80" font-size="6.3" font-weight="bold" text-anchor="middle" fill="#000">2</text>
<line x1="590.48" y1="104.80" x2="590.48" y2="107.00" stroke="#000" stroke-width="0.9"/>
<text x="590.48" y="113.80" font-size="6.3" font-weight="bold" text-anchor="middle" fill="#000">4</text>
<line x1="608.02" y1="104.80" x2="608.02" y2="107.00" stroke="#000" stroke-width="0.9"/>
<text x="608.02" y="113.80" font-size="6.3" font-weight="bold" text-anchor="middle" fill="#000">6</text>
<line x1="625.56" y1="104.80" x2="625.56" y2="107.00" stroke="#000" stroke-width="0.9"/>
<text x="625.56" y="113.80" font-size="6.3" font-weight="bold" text-anchor="middle" fill="#000">8</text>
<line x1="643.10" y1="104.80" x2="643.10" y2="107.00" stroke="#000" stroke-width="0.9"/>
<text x="643.10" y="113.80" font-size="6.3" font-weight="bold" text-anchor="middle" fill="#000">10</text>
<line x1="660.64" y1="104.80" x2="660.64" y2="107.00" stroke="#000" stroke-width="0.9"/>
<text x="660.64" y="113.80" font-size="6.3" font-weight="bold" text-anchor="middle" fill="#000">12</text>
<line x1="678.18" y1="104.80" x2="678.18" y2="107.00" stroke="#000" stroke-width="0.9"/>
<text x="678.18" y="113.80" font-size="6.3" font-weight="bold" text-anchor="middle" fill="#000">14</text>
<text x="616.30" y="124.40" font-size="9.3" font-weight="bold" text-anchor="middle" fill="#000">Hours</text>
<text x="537.40" y="63.20" font-size="9.1" font-weight="bold" text-anchor="middle" fill="#000" transform="rotate(-90 537.4 63.2)">Survival</text>
<polyline points="555.40,22.90 564.17,26.59 572.94,31.34 581.71,40.92 590.48,49.35 599.25,56.56 608.02,64.51 616.79,73.02 625.56,81.87 634.33,93.33 643.10,102.34 651.87,103.98 660.64,104.80" fill="none" stroke="#4a8ccb" stroke-width="0.9"/>
<circle cx="555.40" cy="22.90" r="0.8" fill="#4a8ccb"/>
<line x1="564.17" y1="25.77" x2="564.17" y2="27.40" stroke="#8ab7e0" stroke-width="0.8"/>
<line x1="562.57" y1="25.77" x2="565.77" y2="25.77" stroke="#8ab7e0" stroke-width="0.8"/>
<line x1="562.57" y1="27.40" x2="565.77" y2="27.40" stroke="#8ab7e0" stroke-width="0.8"/>
<circle cx="564.17" cy="26.59" r="0.8" fill="#4a8ccb"/>
<line x1="572.94" y1="29.29" x2="572.94" y2="33.38" stroke="#8ab7e0" stroke-width="0.8"/>
<line x1="571.34" y1="29.29" x2="574.54" y2="29.29" stroke="#8ab7e0" stroke-width="0.8"/>
<line x1="571.34" y1="33.38" x2="574.54" y2="33.38" stroke="#8ab7e0" stroke-width="0.8"/>
<circle cx="572.94" cy="31.34" r="0.8" fill="#4a8ccb"/>
<line x1="581.71" y1="38.05" x2="581.71" y2="43.78" stroke="#8ab7e0" stroke-width="0.8"/>
<line x1="580.11" y1="38.05" x2="583.31" y2="38.05" stroke="#8ab7e0" stroke-width="0.8"/>
<line x1="580.11" y1="43.78" x2="583.31" y2="43.78" stroke="#8ab7e0" stroke-width="0.8"/>
<circle cx="581.71" cy="40.92" r="0.8" fill="#4a8ccb"/>
<line x1="590.48" y1="46.08" x2="590.48" y2="52.63" stroke="#8ab7e0" stroke-width="0.8"/>
<line x1="588.88" y1="46.08" x2="592.08" y2="46.08" stroke="#8ab7e0" stroke-width="0.8"/>
<line x1="588.88" y1="52.63" x2="592.08" y2="52.63" stroke="#8ab7e0" stroke-width="0.8"/>
<circle cx="590.48" cy="49.35" r="0.8" fill="#4a8ccb"/>
<line x1="599.25" y1="53.28" x2="599.25" y2="59.84" stroke="#8ab7e0" stroke-width="0.8"/>
<line x1="597.65" y1="53.28" x2="600.85" y2="53.28" stroke="#8ab7e0" stroke-width="0.8"/>
<line x1="597.65" y1="59.84" x2="600.85" y2="59.84" stroke="#8ab7e0" stroke-width="0.8"/>
<circle cx="599.25" cy="56.56" r="0.8" fill="#4a8ccb"/>
<line x1="608.02" y1="61.23" x2="608.02" y2="67.78" stroke="#8ab7e0" stroke-width="0.8"/>
<line x1="606.42" y1="61.23" x2="609.62" y2="61.23" stroke="#8ab7e0" stroke-width="0.8"/>
<line x1="606.42" y1="67.78" x2="609.62" y2="67.78" stroke="#8ab7e0" stroke-width="0.8"/>
<circle cx="608.02" cy="64.51" r="0.8" fill="#4a8ccb"/>
<line x1="616.79" y1="69.75" x2="616.79" y2="76.30" stroke="#8ab7e0" stroke-width="0.8"/>
<line x1="615.19" y1="69.75" x2="618.39" y2="69.75" stroke="#8ab7e0" stroke-width="0.8"/>
<line x1="615.19" y1="76.30" x2="618.39" y2="76.30" stroke="#8ab7e0" stroke-width="0.8"/>
<circle cx="616.79" cy="73.02" r="0.8" fill="#4a8ccb"/>
<line x1="625.56" y1="79.00" x2="625.56" y2="84.73" stroke="#8ab7e0" stroke-width="0.8"/>
<line x1="623.96" y1="79.00" x2="627.16" y2="79.00" stroke="#8ab7e0" stroke-width="0.8"/>
<line x1="623.96" y1="84.73" x2="627.16" y2="84.73" stroke="#8ab7e0" stroke-width="0.8"/>
<circle cx="625.56" cy="81.87" r="0.8" fill="#4a8ccb"/>
<line x1="634.33" y1="91.29" x2="634.33" y2="95.38" stroke="#8ab7e0" stroke-width="0.8"/>
<line x1="632.73" y1="91.29" x2="635.93" y2="91.29" stroke="#8ab7e0" stroke-width="0.8"/>
<line x1="632.73" y1="95.38" x2="635.93" y2="95.38" stroke="#8ab7e0" stroke-width="0.8"/>
<circle cx="634.33" cy="93.33" r="0.8" fill="#4a8ccb"/>
<line x1="643.10" y1="101.52" x2="643.10" y2="103.16" stroke="#8ab7e0" stroke-width="0.8"/>
<line x1="641.50" y1="101.52" x2="644.70" y2="101.52" stroke="#8ab7e0" stroke-width="0.8"/>
<line x1="641.50" y1="103.16" x2="644.70" y2="103.16" stroke="#8ab7e0" stroke-width="0.8"/>
<circle cx="643.10" cy="102.34" r="0.8" fill="#4a8ccb"/>
<circle cx="651.87" cy="103.98" r="0.8" fill="#4a8ccb"/>
<circle cx="660.64" cy="104.80" r="0.8" fill="#4a8ccb"/>
<polyline points="555.40,22.90 564.17,27.24 572.94,54.84 581.71,65.90 590.48,74.66 599.25,86.95 608.02,90.22 616.79,97.51 625.56,104.80" fill="none" stroke="#ee3a3f" stroke-width="0.9"/>
<circle cx="555.40" cy="22.90" r="0.8" fill="#ee3a3f"/>
<line x1="564.17" y1="26.01" x2="564.17" y2="28.47" stroke="#f3898d" stroke-width="0.8"/>
<line x1="562.57" y1="26.01" x2="565.77" y2="26.01" stroke="#f3898d" stroke-width="0.8"/>
<line x1="562.57" y1="28.47" x2="565.77" y2="28.47" stroke="#f3898d" stroke-width="0.8"/>
<circle cx="564.17" cy="27.24" r="0.8" fill="#ee3a3f"/>
<line x1="572.94" y1="51.97" x2="572.94" y2="57.71" stroke="#f3898d" stroke-width="0.8"/>
<line x1="571.34" y1="51.97" x2="574.54" y2="51.97" stroke="#f3898d" stroke-width="0.8"/>
<line x1="571.34" y1="57.71" x2="574.54" y2="57.71" stroke="#f3898d" stroke-width="0.8"/>
<circle cx="572.94" cy="54.84" r="0.8" fill="#ee3a3f"/>
<line x1="581.71" y1="62.21" x2="581.71" y2="69.58" stroke="#f3898d" stroke-width="0.8"/>
<line x1="580.11" y1="62.21" x2="583.31" y2="62.21" stroke="#f3898d" stroke-width="0.8"/>
<line x1="580.11" y1="69.58" x2="583.31" y2="69.58" stroke="#f3898d" stroke-width="0.8"/>
<circle cx="581.71" cy="65.90" r="0.8" fill="#ee3a3f"/>
<line x1="590.48" y1="71.38" x2="590.48" y2="77.94" stroke="#f3898d" stroke-width="0.8"/>
<line x1="588.88" y1="71.38" x2="592.08" y2="71.38" stroke="#f3898d" stroke-width="0.8"/>
<line x1="588.88" y1="77.94" x2="592.08" y2="77.94" stroke="#f3898d" stroke-width="0.8"/>
<circle cx="590.48" cy="74.66" r="0.8" fill="#ee3a3f"/>
<line x1="599.25" y1="84.08" x2="599.25" y2="89.81" stroke="#f3898d" stroke-width="0.8"/>
<line x1="597.65" y1="84.08" x2="600.85" y2="84.08" stroke="#f3898d" stroke-width="0.8"/>
<line x1="597.65" y1="89.81" x2="600.85" y2="89.81" stroke="#f3898d" stroke-width="0.8"/>
<circle cx="599.25" cy="86.95" r="0.8" fill="#ee3a3f"/>
<line x1="608.02" y1="87.76" x2="608.02" y2="92.68" stroke="#f3898d" stroke-width="0.8"/>
<line x1="606.42" y1="87.76" x2="609.62" y2="87.76" stroke="#f3898d" stroke-width="0.8"/>
<line x1="606.42" y1="92.68" x2="609.62" y2="92.68" stroke="#f3898d" stroke-width="0.8"/>
<circle cx="608.02" cy="90.22" r="0.8" fill="#ee3a3f"/>
<line x1="616.79" y1="95.87" x2="616.79" y2="99.15" stroke="#f3898d" stroke-width="0.8"/>
<line x1="615.19" y1="95.87" x2="618.39" y2="95.87" stroke="#f3898d" stroke-width="0.8"/>
<line x1="615.19" y1="99.15" x2="618.39" y2="99.15" stroke="#f3898d" stroke-width="0.8"/>
<circle cx="616.79" cy="97.51" r="0.8" fill="#ee3a3f"/>
<circle cx="625.56" cy="104.80" r="0.8" fill="#ee3a3f"/>
<line x1="626.20" y1="35.30" x2="633.80" y2="35.30" stroke="#ef2d35" stroke-width="1.0"/>
<path d="M628.90,35.70 L630.00,33.50 L631.10,35.70 Z" fill="#ef2d35" stroke="none" stroke-width="1"/>
<text x="637.10" y="37.50" font-size="6.5" font-weight="normal" text-anchor="start" fill="#333">CNT</text>
<line x1="626.20" y1="45.00" x2="633.80" y2="45.00" stroke="#3a7fc0" stroke-width="1.0"/>
<path d="M628.90,45.40 L630.00,43.20 L631.10,45.40 Z" fill="#3a7fc0" stroke="none" stroke-width="1"/>
<text x="637.10" y="47.20" font-size="6.5" font-weight="normal" text-anchor="start" fill="#333">TM</text>
<polyline points="652.30,35.30 656.50,35.30 656.50,45.00 648.00,45.00" fill="none" stroke="#222" stroke-width="0.9"/>
<text x="658.60" y="44.35" font-size="9.3" font-weight="bold" text-anchor="start" fill="#000">****</text>
<text x="529.90" y="149.00" font-size="15" font-weight="bold" text-anchor="start" fill="#000">H</text>
<text x="619.70" y="155.30" font-size="9.1" font-weight="bold" text-anchor="middle" fill="#000">Paraquat [100mM]</text>
<line x1="555.40" y1="159.60" x2="555.40" y2="242.80" stroke="#000" stroke-width="0.9"/>
<line x1="553.20" y1="242.30" x2="555.40" y2="242.30" stroke="#000" stroke-width="0.9"/>
<text x="552.60" y="244.50" font-size="6.3" font-weight="bold" text-anchor="end" fill="#000">0</text>
<line x1="553.20" y1="225.82" x2="555.40" y2="225.82" stroke="#000" stroke-width="0.9"/>
<text x="552.60" y="228.02" font-size="6.3" font-weight="bold" text-anchor="end" fill="#000">20</text>
<line x1="553.20" y1="209.34" x2="555.40" y2="209.34" stroke="#000" stroke-width="0.9"/>
<text x="552.60" y="211.54" font-size="6.3" font-weight="bold" text-anchor="end" fill="#000">40</text>
<line x1="553.20" y1="192.86" x2="555.40" y2="192.86" stroke="#000" stroke-width="0.9"/>
<text x="552.60" y="195.06" font-size="6.3" font-weight="bold" text-anchor="end" fill="#000">60</text>
<line x1="553.20" y1="176.38" x2="555.40" y2="176.38" stroke="#000" stroke-width="0.9"/>
<text x="552.60" y="178.58" font-size="6.3" font-weight="bold" text-anchor="end" fill="#000">80</text>
<line x1="553.20" y1="159.90" x2="555.40" y2="159.90" stroke="#000" stroke-width="0.9"/>
<text x="552.60" y="162.10" font-size="6.3" font-weight="bold" text-anchor="end" fill="#000">100</text>
<line x1="554.00" y1="234.06" x2="555.40" y2="234.06" stroke="#000" stroke-width="0.9"/>
<line x1="554.00" y1="217.58" x2="555.40" y2="217.58" stroke="#000" stroke-width="0.9"/>
<line x1="554.00" y1="201.10" x2="555.40" y2="201.10" stroke="#000" stroke-width="0.9"/>
<line x1="554.00" y1="184.62" x2="555.40" y2="184.62" stroke="#000" stroke-width="0.9"/>
<line x1="554.00" y1="168.14" x2="555.40" y2="168.14" stroke="#000" stroke-width="0.9"/>
<line x1="554.90" y1="242.30" x2="679.72" y2="242.30" stroke="#000" stroke-width="0.9"/>
<line x1="555.40" y1="242.30" x2="555.40" y2="244.50" stroke="#000" stroke-width="0.9"/>
<text x="555.40" y="251.10" font-size="6.3" font-weight="bold" text-anchor="middle" fill="#000">0</text>
<line x1="570.94" y1="242.30" x2="570.94" y2="244.50" stroke="#000" stroke-width="0.9"/>
<text x="570.94" y="251.10" font-size="6.3" font-weight="bold" text-anchor="middle" fill="#000">2</text>
<line x1="586.48" y1="242.30" x2="586.48" y2="244.50" stroke="#000" stroke-width="0.9"/>
<text x="586.48" y="251.10" font-size="6.3" font-weight="bold" text-anchor="middle" fill="#000">4</text>
<line x1="602.02" y1="242.30" x2="602.02" y2="244.50" stroke="#000" stroke-width="0.9"/>
<text x="602.02" y="251.10" font-size="6.3" font-weight="bold" text-anchor="middle" fill="#000">6</text>
<line x1="617.56" y1="242.30" x2="617.56" y2="244.50" stroke="#000" stroke-width="0.9"/>
<text x="617.56" y="251.10" font-size="6.3" font-weight="bold" text-anchor="middle" fill="#000">8</text>
<line x1="633.10" y1="242.30" x2="633.10" y2="244.50" stroke="#000" stroke-width="0.9"/>
<text x="633.10" y="251.10" font-size="6.3" font-weight="bold" text-anchor="middle" fill="#000">10</text>
<line x1="648.64" y1="242.30" x2="648.64" y2="244.50" stroke="#000" stroke-width="0.9"/>
<text x="648.64" y="251.10" font-size="6.3" font-weight="bold" text-anchor="middle" fill="#000">12</text>
<line x1="664.18" y1="242.30" x2="664.18" y2="244.50" stroke="#000" stroke-width="0.9"/>
<text x="664.18" y="251.10" font-size="6.3" font-weight="bold" text-anchor="middle" fill="#000">14</text>
<line x1="679.72" y1="242.30" x2="679.72" y2="244.50" stroke="#000" stroke-width="0.9"/>
<text x="679.72" y="251.10" font-size="6.3" font-weight="bold" text-anchor="middle" fill="#000">16</text>
<text x="616.30" y="263.50" font-size="9.3" font-weight="bold" text-anchor="middle" fill="#000">Hours</text>
<text x="537.40" y="200.50" font-size="9.1" font-weight="bold" text-anchor="middle" fill="#000" transform="rotate(-90 537.4 200.5)">Survival</text>
<polyline points="555.40,159.90 563.17,161.96 570.94,163.53 578.71,164.43 586.48,165.67 594.25,172.26 602.02,177.53 609.79,185.94 617.56,189.56 625.33,194.10 633.10,201.59 640.87,211.73 648.64,218.40 656.41,220.05 671.95,228.95" fill="none" stroke="#4a8ccb" stroke-width="0.9"/>
<circle cx="555.40" cy="159.90" r="0.8" fill="#4a8ccb"/>
<line x1="563.17" y1="160.72" x2="563.17" y2="163.20" stroke="#8ab7e0" stroke-width="0.8"/>
<line x1="561.57" y1="160.72" x2="564.77" y2="160.72" stroke="#8ab7e0" stroke-width="0.8"/>
<line x1="561.57" y1="163.20" x2="564.77" y2="163.20" stroke="#8ab7e0" stroke-width="0.8"/>
<circle cx="563.17" cy="161.96" r="0.8" fill="#4a8ccb"/>
<line x1="570.94" y1="161.88" x2="570.94" y2="165.17" stroke="#8ab7e0" stroke-width="0.8"/>
<line x1="569.34" y1="161.88" x2="572.54" y2="161.88" stroke="#8ab7e0" stroke-width="0.8"/>
<line x1="569.34" y1="165.17" x2="572.54" y2="165.17" stroke="#8ab7e0" stroke-width="0.8"/>
<circle cx="570.94" cy="163.53" r="0.8" fill="#4a8ccb"/>
<line x1="578.71" y1="162.78" x2="578.71" y2="166.08" stroke="#8ab7e0" stroke-width="0.8"/>
<line x1="577.11" y1="162.78" x2="580.31" y2="162.78" stroke="#8ab7e0" stroke-width="0.8"/>
<line x1="577.11" y1="166.08" x2="580.31" y2="166.08" stroke="#8ab7e0" stroke-width="0.8"/>
<circle cx="578.71" cy="164.43" r="0.8" fill="#4a8ccb"/>
<line x1="586.48" y1="164.02" x2="586.48" y2="167.32" stroke="#8ab7e0" stroke-width="0.8"/>
<line x1="584.88" y1="164.02" x2="588.08" y2="164.02" stroke="#8ab7e0" stroke-width="0.8"/>
<line x1="584.88" y1="167.32" x2="588.08" y2="167.32" stroke="#8ab7e0" stroke-width="0.8"/>
<circle cx="586.48" cy="165.67" r="0.8" fill="#4a8ccb"/>
<line x1="594.25" y1="169.79" x2="594.25" y2="174.73" stroke="#8ab7e0" stroke-width="0.8"/>
<line x1="592.65" y1="169.79" x2="595.85" y2="169.79" stroke="#8ab7e0" stroke-width="0.8"/>
<line x1="592.65" y1="174.73" x2="595.85" y2="174.73" stroke="#8ab7e0" stroke-width="0.8"/>
<circle cx="594.25" cy="172.26" r="0.8" fill="#4a8ccb"/>
<line x1="602.02" y1="174.65" x2="602.02" y2="180.42" stroke="#8ab7e0" stroke-width="0.8"/>
<line x1="600.42" y1="174.65" x2="603.62" y2="174.65" stroke="#8ab7e0" stroke-width="0.8"/>
<line x1="600.42" y1="180.42" x2="603.62" y2="180.42" stroke="#8ab7e0" stroke-width="0.8"/>
<circle cx="602.02" cy="177.53" r="0.8" fill="#4a8ccb"/>
<line x1="609.79" y1="182.64" x2="609.79" y2="189.23" stroke="#8ab7e0" stroke-width="0.8"/>
<line x1="608.19" y1="182.64" x2="611.39" y2="182.64" stroke="#8ab7e0" stroke-width="0.8"/>
<line x1="608.19" y1="189.23" x2="611.39" y2="189.23" stroke="#8ab7e0" stroke-width="0.8"/>
<circle cx="609.79" cy="185.94" r="0.8" fill="#4a8ccb"/>
<line x1="617.56" y1="186.27" x2="617.56" y2="192.86" stroke="#8ab7e0" stroke-width="0.8"/>
<line x1="615.96" y1="186.27" x2="619.16" y2="186.27" stroke="#8ab7e0" stroke-width="0.8"/>
<line x1="615.96" y1="192.86" x2="619.16" y2="192.86" stroke="#8ab7e0" stroke-width="0.8"/>
<circle cx="617.56" cy="189.56" r="0.8" fill="#4a8ccb"/>
<line x1="625.33" y1="190.80" x2="625.33" y2="197.39" stroke="#8ab7e0" stroke-width="0.8"/>
<line x1="623.73" y1="190.80" x2="626.93" y2="190.80" stroke="#8ab7e0" stroke-width="0.8"/>
<line x1="623.73" y1="197.39" x2="626.93" y2="197.39" stroke="#8ab7e0" stroke-width="0.8"/>
<circle cx="625.33" cy="194.10" r="0.8" fill="#4a8ccb"/>
<line x1="633.10" y1="198.30" x2="633.10" y2="204.89" stroke="#8ab7e0" stroke-width="0.8"/>
<line x1="631.50" y1="198.30" x2="634.70" y2="198.30" stroke="#8ab7e0" stroke-width="0.8"/>
<line x1="631.50" y1="204.89" x2="634.70" y2="204.89" stroke="#8ab7e0" stroke-width="0.8"/>
<circle cx="633.10" cy="201.59" r="0.8" fill="#4a8ccb"/>
<line x1="640.87" y1="208.43" x2="640.87" y2="215.03" stroke="#8ab7e0" stroke-width="0.8"/>
<line x1="639.27" y1="208.43" x2="642.47" y2="208.43" stroke="#8ab7e0" stroke-width="0.8"/>
<line x1="639.27" y1="215.03" x2="642.47" y2="215.03" stroke="#8ab7e0" stroke-width="0.8"/>
<circle cx="640.87" cy="211.73" r="0.8" fill="#4a8ccb"/>
<line x1="648.64" y1="215.11" x2="648.64" y2="221.70" stroke="#8ab7e0" stroke-width="0.8"/>
<line x1="647.04" y1="215.11" x2="650.24" y2="215.11" stroke="#8ab7e0" stroke-width="0.8"/>
<line x1="647.04" y1="221.70" x2="650.24" y2="221.70" stroke="#8ab7e0" stroke-width="0.8"/>
<circle cx="648.64" cy="218.40" r="0.8" fill="#4a8ccb"/>
<line x1="656.41" y1="216.76" x2="656.41" y2="223.35" stroke="#8ab7e0" stroke-width="0.8"/>
<line x1="654.81" y1="216.76" x2="658.01" y2="216.76" stroke="#8ab7e0" stroke-width="0.8"/>
<line x1="654.81" y1="223.35" x2="658.01" y2="223.35" stroke="#8ab7e0" stroke-width="0.8"/>
<circle cx="656.41" cy="220.05" r="0.8" fill="#4a8ccb"/>
<line x1="671.95" y1="226.07" x2="671.95" y2="231.84" stroke="#8ab7e0" stroke-width="0.8"/>
<line x1="670.35" y1="226.07" x2="673.55" y2="226.07" stroke="#8ab7e0" stroke-width="0.8"/>
<line x1="670.35" y1="231.84" x2="673.55" y2="231.84" stroke="#8ab7e0" stroke-width="0.8"/>
<circle cx="671.95" cy="228.95" r="0.8" fill="#4a8ccb"/>
<polyline points="555.40,159.90 563.17,162.78 570.94,170.78 578.71,171.44 586.48,175.56 594.25,181.65 602.02,189.56 609.79,197.97 617.56,209.34 625.33,216.51 633.10,227.47 640.87,232.66 648.64,239.42 656.41,241.48 671.95,242.30" fill="none" stroke="#ee3a3f" stroke-width="0.9"/>
<circle cx="555.40" cy="159.90" r="0.8" fill="#ee3a3f"/>
<line x1="563.17" y1="161.14" x2="563.17" y2="164.43" stroke="#f3898d" stroke-width="0.8"/>
<line x1="561.57" y1="161.14" x2="564.77" y2="161.14" stroke="#f3898d" stroke-width="0.8"/>
<line x1="561.57" y1="164.43" x2="564.77" y2="164.43" stroke="#f3898d" stroke-width="0.8"/>
<circle cx="563.17" cy="162.78" r="0.8" fill="#ee3a3f"/>
<line x1="570.94" y1="168.30" x2="570.94" y2="173.25" stroke="#f3898d" stroke-width="0.8"/>
<line x1="569.34" y1="168.30" x2="572.54" y2="168.30" stroke="#f3898d" stroke-width="0.8"/>
<line x1="569.34" y1="173.25" x2="572.54" y2="173.25" stroke="#f3898d" stroke-width="0.8"/>
<circle cx="570.94" cy="170.78" r="0.8" fill="#ee3a3f"/>
<line x1="578.71" y1="168.96" x2="578.71" y2="173.91" stroke="#f3898d" stroke-width="0.8"/>
<line x1="577.11" y1="168.96" x2="580.31" y2="168.96" stroke="#f3898d" stroke-width="0.8"/>
<line x1="577.11" y1="173.91" x2="580.31" y2="173.91" stroke="#f3898d" stroke-width="0.8"/>
<circle cx="578.71" cy="171.44" r="0.8" fill="#ee3a3f"/>
<line x1="586.48" y1="172.67" x2="586.48" y2="178.44" stroke="#f3898d" stroke-width="0.8"/>
<line x1="584.88" y1="172.67" x2="588.08" y2="172.67" stroke="#f3898d" stroke-width="0.8"/>
<line x1="584.88" y1="178.44" x2="588.08" y2="178.44" stroke="#f3898d" stroke-width="0.8"/>
<circle cx="586.48" cy="175.56" r="0.8" fill="#ee3a3f"/>
<line x1="594.25" y1="178.36" x2="594.25" y2="184.95" stroke="#f3898d" stroke-width="0.8"/>
<line x1="592.65" y1="178.36" x2="595.85" y2="178.36" stroke="#f3898d" stroke-width="0.8"/>
<line x1="592.65" y1="184.95" x2="595.85" y2="184.95" stroke="#f3898d" stroke-width="0.8"/>
<circle cx="594.25" cy="181.65" r="0.8" fill="#ee3a3f"/>
<line x1="602.02" y1="186.27" x2="602.02" y2="192.86" stroke="#f3898d" stroke-width="0.8"/>
<line x1="600.42" y1="186.27" x2="603.62" y2="186.27" stroke="#f3898d" stroke-width="0.8"/>
<line x1="600.42" y1="192.86" x2="603.62" y2="192.86" stroke="#f3898d" stroke-width="0.8"/>
<circle cx="602.02" cy="189.56" r="0.8" fill="#ee3a3f"/>
<line x1="609.79" y1="194.26" x2="609.79" y2="201.68" stroke="#f3898d" stroke-width="0.8"/>
<line x1="608.19" y1="194.26" x2="611.39" y2="194.26" stroke="#f3898d" stroke-width="0.8"/>
<line x1="608.19" y1="201.68" x2="611.39" y2="201.68" stroke="#f3898d" stroke-width="0.8"/>
<circle cx="609.79" cy="197.97" r="0.8" fill="#ee3a3f"/>
<line x1="617.56" y1="205.63" x2="617.56" y2="213.05" stroke="#f3898d" stroke-width="0.8"/>
<line x1="615.96" y1="205.63" x2="619.16" y2="205.63" stroke="#f3898d" stroke-width="0.8"/>
<line x1="615.96" y1="213.05" x2="619.16" y2="213.05" stroke="#f3898d" stroke-width="0.8"/>
<circle cx="617.56" cy="209.34" r="0.8" fill="#ee3a3f"/>
<line x1="625.33" y1="213.21" x2="625.33" y2="219.80" stroke="#f3898d" stroke-width="0.8"/>
<line x1="623.73" y1="213.21" x2="626.93" y2="213.21" stroke="#f3898d" stroke-width="0.8"/>
<line x1="623.73" y1="219.80" x2="626.93" y2="219.80" stroke="#f3898d" stroke-width="0.8"/>
<circle cx="625.33" cy="216.51" r="0.8" fill="#ee3a3f"/>
<line x1="633.10" y1="225.00" x2="633.10" y2="229.94" stroke="#f3898d" stroke-width="0.8"/>
<line x1="631.50" y1="225.00" x2="634.70" y2="225.00" stroke="#f3898d" stroke-width="0.8"/>
<line x1="631.50" y1="229.94" x2="634.70" y2="229.94" stroke="#f3898d" stroke-width="0.8"/>
<circle cx="633.10" cy="227.47" r="0.8" fill="#ee3a3f"/>
<line x1="640.87" y1="230.60" x2="640.87" y2="234.72" stroke="#f3898d" stroke-width="0.8"/>
<line x1="639.27" y1="230.60" x2="642.47" y2="230.60" stroke="#f3898d" stroke-width="0.8"/>
<line x1="639.27" y1="234.72" x2="642.47" y2="234.72" stroke="#f3898d" stroke-width="0.8"/>
<circle cx="640.87" cy="232.66" r="0.8" fill="#ee3a3f"/>
<circle cx="648.64" cy="239.42" r="0.8" fill="#ee3a3f"/>
<circle cx="656.41" cy="241.48" r="0.8" fill="#ee3a3f"/>
<circle cx="671.95" cy="242.30" r="0.8" fill="#ee3a3f"/>
<line x1="633.30" y1="166.50" x2="639.90" y2="166.50" stroke="#ef2d35" stroke-width="1.0"/>
<path d="M635.50,166.90 L636.60,164.70 L637.70,166.90 Z" fill="#ef2d35" stroke="none" stroke-width="1"/>
<text x="642.80" y="168.70" font-size="6.5" font-weight="normal" text-anchor="start" fill="#333">CNT</text>
<line x1="633.30" y1="175.40" x2="639.90" y2="175.40" stroke="#3a7fc0" stroke-width="1.0"/>
<path d="M635.50,175.80 L636.60,173.60 L637.70,175.80 Z" fill="#3a7fc0" stroke="none" stroke-width="1"/>
<text x="642.80" y="177.60" font-size="6.5" font-weight="normal" text-anchor="start" fill="#333">TM</text>
<polyline points="656.10,166.50 660.80,166.50 660.80,175.40 651.80,175.40" fill="none" stroke="#222" stroke-width="0.9"/>
<text x="662.00" y="175.15" font-size="9.3" font-weight="bold" text-anchor="start" fill="#000">****</text>
<text x="529.90" y="297.50" font-size="15" font-weight="bold" text-anchor="start" fill="#000">I</text>
<text x="617.70" y="297.60" font-size="9.1" font-weight="bold" text-anchor="middle" fill="#000">tBHP [15.4mM]</text>
<line x1="555.60" y1="302.10" x2="555.60" y2="386.00" stroke="#000" stroke-width="0.9"/>
<line x1="553.40" y1="385.50" x2="555.60" y2="385.50" stroke="#000" stroke-width="0.9"/>
<text x="552.80" y="387.70" font-size="6.3" font-weight="bold" text-anchor="end" fill="#000">0</text>
<line x1="553.40" y1="368.88" x2="555.60" y2="368.88" stroke="#000" stroke-width="0.9"/>
<text x="552.80" y="371.08" font-size="6.3" font-weight="bold" text-anchor="end" fill="#000">20</text>
<line x1="553.40" y1="352.26" x2="555.60" y2="352.26" stroke="#000" stroke-width="0.9"/>
<text x="552.80" y="354.46" font-size="6.3" font-weight="bold" text-anchor="end" fill="#000">40</text>
<line x1="553.40" y1="335.64" x2="555.60" y2="335.64" stroke="#000" stroke-width="0.9"/>
<text x="552.80" y="337.84" font-size="6.3" font-weight="bold" text-anchor="end" fill="#000">60</text>
<line x1="553.40" y1="319.02" x2="555.60" y2="319.02" stroke="#000" stroke-width="0.9"/>
<text x="552.80" y="321.22" font-size="6.3" font-weight="bold" text-anchor="end" fill="#000">80</text>
<line x1="553.40" y1="302.40" x2="555.60" y2="302.40" stroke="#000" stroke-width="0.9"/>
<text x="552.80" y="304.60" font-size="6.3" font-weight="bold" text-anchor="end" fill="#000">100</text>
<line x1="554.20" y1="377.19" x2="555.60" y2="377.19" stroke="#000" stroke-width="0.9"/>
<line x1="554.20" y1="360.57" x2="555.60" y2="360.57" stroke="#000" stroke-width="0.9"/>
<line x1="554.20" y1="343.95" x2="555.60" y2="343.95" stroke="#000" stroke-width="0.9"/>
<line x1="554.20" y1="327.33" x2="555.60" y2="327.33" stroke="#000" stroke-width="0.9"/>
<line x1="554.20" y1="310.71" x2="555.60" y2="310.71" stroke="#000" stroke-width="0.9"/>
<line x1="555.10" y1="385.50" x2="680.16" y2="385.50" stroke="#000" stroke-width="0.9"/>
<line x1="555.60" y1="385.50" x2="555.60" y2="387.70" stroke="#000" stroke-width="0.9"/>
<text x="555.60" y="395.10" font-size="6.3" font-weight="bold" text-anchor="middle" fill="#000">0</text>
<line x1="576.36" y1="385.50" x2="576.36" y2="387.70" stroke="#000" stroke-width="0.9"/>
<text x="576.36" y="395.10" font-size="6.3" font-weight="bold" text-anchor="middle" fill="#000">2</text>
<line x1="597.12" y1="385.50" x2="597.12" y2="387.70" stroke="#000" stroke-width="0.9"/>
<text x="597.12" y="395.10" font-size="6.3" font-weight="bold" text-anchor="middle" fill="#000">4</text>
<line x1="617.88" y1="385.50" x2="617.88" y2="387.70" stroke="#000" stroke-width="0.9"/>
<text x="617.88" y="395.10" font-size="6.3" font-weight="bold" text-anchor="middle" fill="#000">6</text>
<line x1="638.64" y1="385.50" x2="638.64" y2="387.70" stroke="#000" stroke-width="0.9"/>
<text x="638.64" y="395.10" font-size="6.3" font-weight="bold" text-anchor="middle" fill="#000">8</text>
<line x1="659.40" y1="385.50" x2="659.40" y2="387.70" stroke="#000" stroke-width="0.9"/>
<text x="659.40" y="395.10" font-size="6.3" font-weight="bold" text-anchor="middle" fill="#000">10</text>
<line x1="680.16" y1="385.50" x2="680.16" y2="387.70" stroke="#000" stroke-width="0.9"/>
<text x="680.16" y="395.10" font-size="6.3" font-weight="bold" text-anchor="middle" fill="#000">12</text>
<text x="616.90" y="405.80" font-size="9.3" font-weight="bold" text-anchor="middle" fill="#000">Hours</text>
<text x="537.40" y="345.00" font-size="9.1" font-weight="bold" text-anchor="middle" fill="#000" transform="rotate(-90 537.4 345.0)">Survival</text>
<polyline points="555.60,302.40 565.98,305.72 576.36,313.20 586.74,322.93 597.12,328.49 607.50,341.04 617.88,357.83 628.26,369.13 638.64,381.18 649.02,384.67 659.40,385.50" fill="none" stroke="#4a8ccb" stroke-width="0.9"/>
<circle cx="555.60" cy="302.40" r="0.8" fill="#4a8ccb"/>
<line x1="565.98" y1="304.48" x2="565.98" y2="306.97" stroke="#8ab7e0" stroke-width="0.8"/>
<line x1="564.38" y1="304.48" x2="567.58" y2="304.48" stroke="#8ab7e0" stroke-width="0.8"/>
<line x1="564.38" y1="306.97" x2="567.58" y2="306.97" stroke="#8ab7e0" stroke-width="0.8"/>
<circle cx="565.98" cy="305.72" r="0.8" fill="#4a8ccb"/>
<line x1="576.36" y1="311.13" x2="576.36" y2="315.28" stroke="#8ab7e0" stroke-width="0.8"/>
<line x1="574.76" y1="311.13" x2="577.96" y2="311.13" stroke="#8ab7e0" stroke-width="0.8"/>
<line x1="574.76" y1="315.28" x2="577.96" y2="315.28" stroke="#8ab7e0" stroke-width="0.8"/>
<circle cx="576.36" cy="313.20" r="0.8" fill="#4a8ccb"/>
<line x1="586.74" y1="319.60" x2="586.74" y2="326.25" stroke="#8ab7e0" stroke-width="0.8"/>
<line x1="585.14" y1="319.60" x2="588.34" y2="319.60" stroke="#8ab7e0" stroke-width="0.8"/>
<line x1="585.14" y1="326.25" x2="588.34" y2="326.25" stroke="#8ab7e0" stroke-width="0.8"/>
<circle cx="586.74" cy="322.93" r="0.8" fill="#4a8ccb"/>
<line x1="597.12" y1="325.17" x2="597.12" y2="331.82" stroke="#8ab7e0" stroke-width="0.8"/>
<line x1="595.52" y1="325.17" x2="598.72" y2="325.17" stroke="#8ab7e0" stroke-width="0.8"/>
<line x1="595.52" y1="331.82" x2="598.72" y2="331.82" stroke="#8ab7e0" stroke-width="0.8"/>
<circle cx="597.12" cy="328.49" r="0.8" fill="#4a8ccb"/>
<line x1="607.50" y1="337.30" x2="607.50" y2="344.78" stroke="#8ab7e0" stroke-width="0.8"/>
<line x1="605.90" y1="337.30" x2="609.10" y2="337.30" stroke="#8ab7e0" stroke-width="0.8"/>
<line x1="605.90" y1="344.78" x2="609.10" y2="344.78" stroke="#8ab7e0" stroke-width="0.8"/>
<circle cx="607.50" cy="341.04" r="0.8" fill="#4a8ccb"/>
<line x1="617.88" y1="354.09" x2="617.88" y2="361.57" stroke="#8ab7e0" stroke-width="0.8"/>
<line x1="616.28" y1="354.09" x2="619.48" y2="354.09" stroke="#8ab7e0" stroke-width="0.8"/>
<line x1="616.28" y1="361.57" x2="619.48" y2="361.57" stroke="#8ab7e0" stroke-width="0.8"/>
<circle cx="617.88" cy="357.83" r="0.8" fill="#4a8ccb"/>
<line x1="628.26" y1="366.22" x2="628.26" y2="372.04" stroke="#8ab7e0" stroke-width="0.8"/>
<line x1="626.66" y1="366.22" x2="629.86" y2="366.22" stroke="#8ab7e0" stroke-width="0.8"/>
<line x1="626.66" y1="372.04" x2="629.86" y2="372.04" stroke="#8ab7e0" stroke-width="0.8"/>
<circle cx="628.26" cy="369.13" r="0.8" fill="#4a8ccb"/>
<line x1="638.64" y1="379.52" x2="638.64" y2="382.84" stroke="#8ab7e0" stroke-width="0.8"/>
<line x1="637.04" y1="379.52" x2="640.24" y2="379.52" stroke="#8ab7e0" stroke-width="0.8"/>
<line x1="637.04" y1="382.84" x2="640.24" y2="382.84" stroke="#8ab7e0" stroke-width="0.8"/>
<circle cx="638.64" cy="381.18" r="0.8" fill="#4a8ccb"/>
<circle cx="649.02" cy="384.67" r="0.8" fill="#4a8ccb"/>
<circle cx="659.40" cy="385.50" r="0.8" fill="#4a8ccb"/>
<polyline points="555.60,302.40 565.98,307.22 576.36,318.02 586.74,337.30 597.12,351.01 607.50,364.97 617.88,372.29 628.26,378.27 638.64,385.50" fill="none" stroke="#ee3a3f" stroke-width="0.9"/>
<circle cx="555.60" cy="302.40" r="0.8" fill="#ee3a3f"/>
<line x1="565.98" y1="305.56" x2="565.98" y2="308.88" stroke="#f3898d" stroke-width="0.8"/>
<line x1="564.38" y1="305.56" x2="567.58" y2="305.56" stroke="#f3898d" stroke-width="0.8"/>
<line x1="564.38" y1="308.88" x2="567.58" y2="308.88" stroke="#f3898d" stroke-width="0.8"/>
<circle cx="565.98" cy="307.22" r="0.8" fill="#ee3a3f"/>
<line x1="576.36" y1="315.53" x2="576.36" y2="320.52" stroke="#f3898d" stroke-width="0.8"/>
<line x1="574.76" y1="315.53" x2="577.96" y2="315.53" stroke="#f3898d" stroke-width="0.8"/>
<line x1="574.76" y1="320.52" x2="577.96" y2="320.52" stroke="#f3898d" stroke-width="0.8"/>
<circle cx="576.36" cy="318.02" r="0.8" fill="#ee3a3f"/>
<line x1="586.74" y1="333.98" x2="586.74" y2="340.63" stroke="#f3898d" stroke-width="0.8"/>
<line x1="585.14" y1="333.98" x2="588.34" y2="333.98" stroke="#f3898d" stroke-width="0.8"/>
<line x1="585.14" y1="340.63" x2="588.34" y2="340.63" stroke="#f3898d" stroke-width="0.8"/>
<circle cx="586.74" cy="337.30" r="0.8" fill="#ee3a3f"/>
<line x1="597.12" y1="347.27" x2="597.12" y2="354.75" stroke="#f3898d" stroke-width="0.8"/>
<line x1="595.52" y1="347.27" x2="598.72" y2="347.27" stroke="#f3898d" stroke-width="0.8"/>
<line x1="595.52" y1="354.75" x2="598.72" y2="354.75" stroke="#f3898d" stroke-width="0.8"/>
<circle cx="597.12" cy="351.01" r="0.8" fill="#ee3a3f"/>
<line x1="607.50" y1="362.07" x2="607.50" y2="367.88" stroke="#f3898d" stroke-width="0.8"/>
<line x1="605.90" y1="362.07" x2="609.10" y2="362.07" stroke="#f3898d" stroke-width="0.8"/>
<line x1="605.90" y1="367.88" x2="609.10" y2="367.88" stroke="#f3898d" stroke-width="0.8"/>
<circle cx="607.50" cy="364.97" r="0.8" fill="#ee3a3f"/>
<line x1="617.88" y1="369.79" x2="617.88" y2="374.78" stroke="#f3898d" stroke-width="0.8"/>
<line x1="616.28" y1="369.79" x2="619.48" y2="369.79" stroke="#f3898d" stroke-width="0.8"/>
<line x1="616.28" y1="374.78" x2="619.48" y2="374.78" stroke="#f3898d" stroke-width="0.8"/>
<circle cx="617.88" cy="372.29" r="0.8" fill="#ee3a3f"/>
<line x1="628.26" y1="376.19" x2="628.26" y2="380.35" stroke="#f3898d" stroke-width="0.8"/>
<line x1="626.66" y1="376.19" x2="629.86" y2="376.19" stroke="#f3898d" stroke-width="0.8"/>
<line x1="626.66" y1="380.35" x2="629.86" y2="380.35" stroke="#f3898d" stroke-width="0.8"/>
<circle cx="628.26" cy="378.27" r="0.8" fill="#ee3a3f"/>
<circle cx="638.64" cy="385.50" r="0.8" fill="#ee3a3f"/>
<line x1="630.00" y1="316.50" x2="636.60" y2="316.50" stroke="#ef2d35" stroke-width="1.0"/>
<path d="M632.20,316.90 L633.30,314.70 L634.40,316.90 Z" fill="#ef2d35" stroke="none" stroke-width="1"/>
<text x="639.90" y="318.70" font-size="6.5" font-weight="normal" text-anchor="start" fill="#333">CNT</text>
<line x1="630.00" y1="325.40" x2="636.60" y2="325.40" stroke="#3a7fc0" stroke-width="1.0"/>
<path d="M632.20,325.80 L633.30,323.60 L634.40,325.80 Z" fill="#3a7fc0" stroke="none" stroke-width="1"/>
<text x="639.90" y="327.60" font-size="6.5" font-weight="normal" text-anchor="start" fill="#333">TM</text>
<polyline points="653.70,316.50 658.90,316.50 658.90,325.40 650.40,325.40" fill="none" stroke="#222" stroke-width="0.9"/>
<text x="660.60" y="325.15" font-size="9.3" font-weight="bold" text-anchor="start" fill="#000">****</text>
<text x="4.00" y="429.00" font-size="15" font-weight="bold" text-anchor="start" fill="#000">J</text>
<text x="343.40" y="430.60" font-size="15" font-weight="bold" text-anchor="start" fill="#000">K</text>
<line x1="31.40" y1="439.10" x2="31.40" y2="539.80" stroke="#111" stroke-width="1.2"/>
<line x1="27.90" y1="539.30" x2="31.40" y2="539.30" stroke="#111" stroke-width="1.2"/>
<text x="26.80" y="542.04" font-size="7.6" font-weight="bold" text-anchor="end" fill="#111">0</text>
<line x1="27.90" y1="506.00" x2="31.40" y2="506.00" stroke="#111" stroke-width="1.2"/>
<text x="26.80" y="508.74" font-size="7.6" font-weight="bold" text-anchor="end" fill="#111">5</text>
<line x1="27.90" y1="472.70" x2="31.40" y2="472.70" stroke="#111" stroke-width="1.2"/>
<text x="26.80" y="475.44" font-size="7.6" font-weight="bold" text-anchor="end" fill="#111">10</text>
<line x1="27.90" y1="439.40" x2="31.40" y2="439.40" stroke="#111" stroke-width="1.2"/>
<text x="26.80" y="442.14" font-size="7.6" font-weight="bold" text-anchor="end" fill="#111">15</text>
<line x1="29.20" y1="522.65" x2="31.40" y2="522.65" stroke="#111" stroke-width="1.2"/>
<line x1="29.20" y1="489.35" x2="31.40" y2="489.35" stroke="#111" stroke-width="1.2"/>
<line x1="29.20" y1="456.05" x2="31.40" y2="456.05" stroke="#111" stroke-width="1.2"/>
<line x1="30.90" y1="539.30" x2="150.10" y2="539.30" stroke="#111" stroke-width="1.2"/>
<line x1="46.70" y1="539.30" x2="46.70" y2="542.80" stroke="#111" stroke-width="1.2"/>
<line x1="76.40" y1="539.30" x2="76.40" y2="542.80" stroke="#111" stroke-width="1.2"/>
<line x1="106.20" y1="539.30" x2="106.20" y2="542.80" stroke="#111" stroke-width="1.2"/>
<line x1="136.00" y1="539.30" x2="136.00" y2="542.80" stroke="#111" stroke-width="1.2"/>
<text x="46.20" y="549.90" font-size="7.6" font-weight="bold" text-anchor="middle" fill="#000">D1</text>
<text x="75.90" y="549.90" font-size="7.6" font-weight="bold" text-anchor="middle" fill="#000">D5</text>
<text x="105.70" y="549.90" font-size="7.6" font-weight="bold" text-anchor="middle" fill="#000">D10</text>
<text x="135.50" y="549.90" font-size="7.6" font-weight="bold" text-anchor="middle" fill="#000">D15</text>
<text x="16.60" y="490.00" font-size="8.8" font-weight="bold" text-anchor="middle" fill="#111" transform="rotate(-90 16.6 490.0)">Travel Speed (mm/min)</text>
<line x1="46.70" y1="464.37" x2="46.70" y2="476.36" stroke="#8db4dc" stroke-width="0.8"/>
<line x1="44.50" y1="464.37" x2="48.90" y2="464.37" stroke="#8db4dc" stroke-width="0.8"/>
<line x1="44.50" y1="476.36" x2="48.90" y2="476.36" stroke="#8db4dc" stroke-width="0.8"/>
<line x1="76.40" y1="513.99" x2="76.40" y2="519.32" stroke="#8db4dc" stroke-width="0.8"/>
<line x1="74.20" y1="513.99" x2="78.60" y2="513.99" stroke="#8db4dc" stroke-width="0.8"/>
<line x1="74.20" y1="519.32" x2="78.60" y2="519.32" stroke="#8db4dc" stroke-width="0.8"/>
<line x1="106.20" y1="516.66" x2="106.20" y2="523.32" stroke="#8db4dc" stroke-width="0.8"/>
<line x1="104.00" y1="516.66" x2="108.40" y2="516.66" stroke="#8db4dc" stroke-width="0.8"/>
<line x1="104.00" y1="523.32" x2="108.40" y2="523.32" stroke="#8db4dc" stroke-width="0.8"/>
<line x1="136.00" y1="526.51" x2="136.00" y2="529.84" stroke="#8db4dc" stroke-width="0.8"/>
<line x1="133.80" y1="526.51" x2="138.20" y2="526.51" stroke="#8db4dc" stroke-width="0.8"/>
<line x1="133.80" y1="529.84" x2="138.20" y2="529.84" stroke="#8db4dc" stroke-width="0.8"/>
<line x1="46.70" y1="493.35" x2="46.70" y2="501.34" stroke="#f2959a" stroke-width="0.8"/>
<line x1="44.50" y1="493.35" x2="48.90" y2="493.35" stroke="#f2959a" stroke-width="0.8"/>
<line x1="44.50" y1="501.34" x2="48.90" y2="501.34" stroke="#f2959a" stroke-width="0.8"/>
<polyline points="46.70,470.37 76.40,516.66 106.20,519.99 136.00,528.18" fill="none" stroke="#3d7fba" stroke-width="1.0"/>
<circle cx="46.70" cy="470.37" r="2.1" fill="#3d7fba"/>
<circle cx="76.40" cy="516.66" r="2.1" fill="#3d7fba"/>
<circle cx="106.20" cy="519.99" r="2.1" fill="#3d7fba"/>
<circle cx="136.00" cy="528.18" r="2.1" fill="#3d7fba"/>
<polyline points="46.70,497.34 76.40,529.98 106.20,531.97 136.00,533.64" fill="none" stroke="#ec3b43" stroke-width="1.0"/>
<circle cx="46.70" cy="497.34" r="2.1" fill="#ec3b43"/>
<circle cx="76.40" cy="529.98" r="2.1" fill="#ec3b43"/>
<circle cx="106.20" cy="531.97" r="2.1" fill="#ec3b43"/>
<circle cx="136.00" cy="533.64" r="2.1" fill="#ec3b43"/>
<text x="139.60" y="538.60" font-size="10.0" font-weight="normal" text-anchor="start" fill="#ec3b43">CNT</text>
<text x="139.60" y="530.20" font-size="10.0" font-weight="normal" text-anchor="start" fill="#3d7fba">TM</text>
<path d="M84.60,491.20 L84.60,496.60 M82.26,492.55 L86.94,495.25 M86.94,492.55 L82.26,495.25 " stroke="#000" stroke-width="0.95" stroke-linecap="round" fill="none"/>
<circle cx="84.60" cy="493.90" r="1.215" fill="#000"/>
<path d="M91.30,491.20 L91.30,496.60 M88.96,492.55 L93.64,495.25 M93.64,492.55 L88.96,495.25 " stroke="#000" stroke-width="0.95" stroke-linecap="round" fill="none"/>
<circle cx="91.30" cy="493.90" r="1.215" fill="#000"/>
<path d="M97.90,491.20 L97.90,496.60 M95.56,492.55 L100.24,495.25 M100.24,492.55 L95.56,495.25 " stroke="#000" stroke-width="0.95" stroke-linecap="round" fill="none"/>
<circle cx="97.90" cy="493.90" r="1.215" fill="#000"/>
<line x1="193.40" y1="439.10" x2="193.40" y2="539.80" stroke="#111" stroke-width="1.2"/>
<line x1="189.90" y1="539.30" x2="193.40" y2="539.30" stroke="#111" stroke-width="1.2"/>
<text x="188.80" y="541.96" font-size="7.4" font-weight="bold" text-anchor="end" fill="#111">0</text>
<line x1="189.90" y1="506.00" x2="193.40" y2="506.00" stroke="#111" stroke-width="1.2"/>
<text x="188.80" y="508.66" font-size="7.4" font-weight="bold" text-anchor="end" fill="#111">200</text>
<line x1="189.90" y1="472.70" x2="193.40" y2="472.70" stroke="#111" stroke-width="1.2"/>
<text x="188.80" y="475.36" font-size="7.4" font-weight="bold" text-anchor="end" fill="#111">400</text>
<line x1="189.90" y1="439.40" x2="193.40" y2="439.40" stroke="#111" stroke-width="1.2"/>
<text x="188.80" y="442.06" font-size="7.4" font-weight="bold" text-anchor="end" fill="#111">600</text>
<line x1="191.20" y1="522.65" x2="193.40" y2="522.65" stroke="#111" stroke-width="1.2"/>
<line x1="191.20" y1="489.35" x2="193.40" y2="489.35" stroke="#111" stroke-width="1.2"/>
<line x1="191.20" y1="456.05" x2="193.40" y2="456.05" stroke="#111" stroke-width="1.2"/>
<line x1="192.90" y1="539.30" x2="312.40" y2="539.30" stroke="#111" stroke-width="1.2"/>
<line x1="208.10" y1="539.30" x2="208.10" y2="542.80" stroke="#111" stroke-width="1.2"/>
<line x1="237.80" y1="539.30" x2="237.80" y2="542.80" stroke="#111" stroke-width="1.2"/>
<line x1="267.70" y1="539.30" x2="267.70" y2="542.80" stroke="#111" stroke-width="1.2"/>
<line x1="297.40" y1="539.30" x2="297.40" y2="542.80" stroke="#111" stroke-width="1.2"/>
<text x="207.60" y="549.90" font-size="7.6" font-weight="bold" text-anchor="middle" fill="#000">D1</text>
<text x="237.30" y="549.90" font-size="7.6" font-weight="bold" text-anchor="middle" fill="#000">D5</text>
<text x="267.20" y="549.90" font-size="7.6" font-weight="bold" text-anchor="middle" fill="#000">D10</text>
<text x="296.90" y="549.90" font-size="7.6" font-weight="bold" text-anchor="middle" fill="#000">D15</text>
<text x="170.60" y="489.40" font-size="7.1" font-weight="bold" text-anchor="middle" fill="#111" transform="rotate(-90 170.6 489.4)">Activity Index (body area/min)</text>
<line x1="208.10" y1="451.72" x2="208.10" y2="465.71" stroke="#8db4dc" stroke-width="0.8"/>
<line x1="205.90" y1="451.72" x2="210.30" y2="451.72" stroke="#8db4dc" stroke-width="0.8"/>
<line x1="205.90" y1="465.71" x2="210.30" y2="465.71" stroke="#8db4dc" stroke-width="0.8"/>
<line x1="237.80" y1="459.88" x2="237.80" y2="468.87" stroke="#8db4dc" stroke-width="0.8"/>
<line x1="235.60" y1="459.88" x2="240.00" y2="459.88" stroke="#8db4dc" stroke-width="0.8"/>
<line x1="235.60" y1="468.87" x2="240.00" y2="468.87" stroke="#8db4dc" stroke-width="0.8"/>
<line x1="267.70" y1="458.38" x2="267.70" y2="478.36" stroke="#8db4dc" stroke-width="0.8"/>
<line x1="265.50" y1="458.38" x2="269.90" y2="458.38" stroke="#8db4dc" stroke-width="0.8"/>
<line x1="265.50" y1="478.36" x2="269.90" y2="478.36" stroke="#8db4dc" stroke-width="0.8"/>
<line x1="297.40" y1="455.55" x2="297.40" y2="486.52" stroke="#8db4dc" stroke-width="0.8"/>
<line x1="295.20" y1="455.55" x2="299.60" y2="455.55" stroke="#8db4dc" stroke-width="0.8"/>
<line x1="295.20" y1="486.52" x2="299.60" y2="486.52" stroke="#8db4dc" stroke-width="0.8"/>
<line x1="208.10" y1="472.87" x2="208.10" y2="480.19" stroke="#f2959a" stroke-width="0.8"/>
<line x1="205.90" y1="472.87" x2="210.30" y2="472.87" stroke="#f2959a" stroke-width="0.8"/>
<line x1="205.90" y1="480.19" x2="210.30" y2="480.19" stroke="#f2959a" stroke-width="0.8"/>
<line x1="237.80" y1="468.37" x2="237.80" y2="480.03" stroke="#f2959a" stroke-width="0.8"/>
<line x1="235.60" y1="468.37" x2="240.00" y2="468.37" stroke="#f2959a" stroke-width="0.8"/>
<line x1="235.60" y1="480.03" x2="240.00" y2="480.03" stroke="#f2959a" stroke-width="0.8"/>
<line x1="267.70" y1="474.70" x2="267.70" y2="489.68" stroke="#f2959a" stroke-width="0.8"/>
<line x1="265.50" y1="474.70" x2="269.90" y2="474.70" stroke="#f2959a" stroke-width="0.8"/>
<line x1="265.50" y1="489.68" x2="269.90" y2="489.68" stroke="#f2959a" stroke-width="0.8"/>
<line x1="297.40" y1="491.51" x2="297.40" y2="507.17" stroke="#f2959a" stroke-width="0.8"/>
<line x1="295.20" y1="491.51" x2="299.60" y2="491.51" stroke="#f2959a" stroke-width="0.8"/>
<line x1="295.20" y1="507.17" x2="299.60" y2="507.17" stroke="#f2959a" stroke-width="0.8"/>
<polyline points="208.10,458.71 237.80,464.37 267.70,468.37 297.40,471.03" fill="none" stroke="#3d7fba" stroke-width="1.0"/>
<circle cx="208.10" cy="458.71" r="2.1" fill="#3d7fba"/>
<circle cx="237.80" cy="464.37" r="2.1" fill="#3d7fba"/>
<circle cx="267.70" cy="468.37" r="2.1" fill="#3d7fba"/>
<circle cx="297.40" cy="471.03" r="2.1" fill="#3d7fba"/>
<polyline points="208.10,476.53 237.80,474.20 267.70,482.19 297.40,499.34" fill="none" stroke="#ec3b43" stroke-width="1.0"/>
<circle cx="208.10" cy="476.53" r="2.1" fill="#ec3b43"/>
<circle cx="237.80" cy="474.20" r="2.1" fill="#ec3b43"/>
<circle cx="267.70" cy="482.19" r="2.1" fill="#ec3b43"/>
<circle cx="297.40" cy="499.34" r="2.1" fill="#ec3b43"/>
<text x="301.10" y="502.60" font-size="8.8" font-weight="normal" text-anchor="start" fill="#ec3b43">CNT</text>
<text x="301.10" y="473.20" font-size="8.8" font-weight="normal" text-anchor="start" fill="#3d7fba">TM</text>
<path d="M252.30,446.50 L252.30,451.90 M249.96,447.85 L254.64,450.55 M254.64,447.85 L249.96,450.55 " stroke="#000" stroke-width="0.95" stroke-linecap="round" fill="none"/>
<circle cx="252.30" cy="449.20" r="1.215" fill="#000"/>
<path d="M258.30,446.50 L258.30,451.90 M255.96,447.85 L260.64,450.55 M260.64,447.85 L255.96,450.55 " stroke="#000" stroke-width="0.95" stroke-linecap="round" fill="none"/>
<circle cx="258.30" cy="449.20" r="1.215" fill="#000"/>
<line x1="379.30" y1="439.90" x2="379.30" y2="540.20" stroke="#111" stroke-width="1.2"/>
<line x1="375.80" y1="539.70" x2="379.30" y2="539.70" stroke="#111" stroke-width="1.2"/>
<text x="374.70" y="542.36" font-size="7.4" font-weight="bold" text-anchor="end" fill="#111">0.000</text>
<line x1="375.80" y1="514.83" x2="379.30" y2="514.83" stroke="#111" stroke-width="1.2"/>
<text x="374.70" y="517.49" font-size="7.4" font-weight="bold" text-anchor="end" fill="#111">0.005</text>
<line x1="375.80" y1="489.95" x2="379.30" y2="489.95" stroke="#111" stroke-width="1.2"/>
<text x="374.70" y="492.61" font-size="7.4" font-weight="bold" text-anchor="end" fill="#111">0.010</text>
<line x1="375.80" y1="465.08" x2="379.30" y2="465.08" stroke="#111" stroke-width="1.2"/>
<text x="374.70" y="467.74" font-size="7.4" font-weight="bold" text-anchor="end" fill="#111">0.015</text>
<line x1="375.80" y1="440.20" x2="379.30" y2="440.20" stroke="#111" stroke-width="1.2"/>
<text x="374.70" y="442.86" font-size="7.4" font-weight="bold" text-anchor="end" fill="#111">0.020</text>
<line x1="377.10" y1="527.26" x2="379.30" y2="527.26" stroke="#111" stroke-width="1.2"/>
<line x1="377.10" y1="502.39" x2="379.30" y2="502.39" stroke="#111" stroke-width="1.2"/>
<line x1="377.10" y1="477.51" x2="379.30" y2="477.51" stroke="#111" stroke-width="1.2"/>
<line x1="377.10" y1="452.64" x2="379.30" y2="452.64" stroke="#111" stroke-width="1.2"/>
<line x1="378.80" y1="539.70" x2="498.40" y2="539.70" stroke="#111" stroke-width="1.2"/>
<line x1="394.40" y1="539.70" x2="394.40" y2="543.20" stroke="#111" stroke-width="1.2"/>
<line x1="424.10" y1="539.70" x2="424.10" y2="543.20" stroke="#111" stroke-width="1.2"/>
<line x1="453.80" y1="539.70" x2="453.80" y2="543.20" stroke="#111" stroke-width="1.2"/>
<line x1="483.70" y1="539.70" x2="483.70" y2="543.20" stroke="#111" stroke-width="1.2"/>
<text x="393.90" y="549.90" font-size="7.6" font-weight="bold" text-anchor="middle" fill="#000">D1</text>
<text x="423.60" y="549.90" font-size="7.6" font-weight="bold" text-anchor="middle" fill="#000">D5</text>
<text x="453.30" y="549.90" font-size="7.6" font-weight="bold" text-anchor="middle" fill="#000">D10</text>
<text x="483.20" y="549.90" font-size="7.6" font-weight="bold" text-anchor="middle" fill="#000">D15</text>
<text x="352.20" y="489.80" font-size="8.5" font-weight="bold" text-anchor="middle" fill="#111" transform="rotate(-90 352.2 489.8)">Avg Body Curvature (/mm)</text>
<line x1="394.40" y1="478.66" x2="394.40" y2="492.09" stroke="#8db4dc" stroke-width="0.8"/>
<line x1="392.20" y1="478.66" x2="396.60" y2="478.66" stroke="#8db4dc" stroke-width="0.8"/>
<line x1="392.20" y1="492.09" x2="396.60" y2="492.09" stroke="#8db4dc" stroke-width="0.8"/>
<line x1="424.10" y1="485.62" x2="424.10" y2="497.56" stroke="#8db4dc" stroke-width="0.8"/>
<line x1="421.90" y1="485.62" x2="426.30" y2="485.62" stroke="#8db4dc" stroke-width="0.8"/>
<line x1="421.90" y1="497.56" x2="426.30" y2="497.56" stroke="#8db4dc" stroke-width="0.8"/>
<line x1="453.80" y1="482.64" x2="453.80" y2="492.59" stroke="#8db4dc" stroke-width="0.8"/>
<line x1="451.60" y1="482.64" x2="456.00" y2="482.64" stroke="#8db4dc" stroke-width="0.8"/>
<line x1="451.60" y1="492.59" x2="456.00" y2="492.59" stroke="#8db4dc" stroke-width="0.8"/>
<line x1="483.70" y1="463.23" x2="483.70" y2="483.13" stroke="#8db4dc" stroke-width="0.8"/>
<line x1="481.50" y1="463.23" x2="485.90" y2="463.23" stroke="#8db4dc" stroke-width="0.8"/>
<line x1="481.50" y1="483.13" x2="485.90" y2="483.13" stroke="#8db4dc" stroke-width="0.8"/>
<line x1="394.40" y1="456.92" x2="394.40" y2="477.81" stroke="#f2959a" stroke-width="0.8"/>
<line x1="392.20" y1="456.92" x2="396.60" y2="456.92" stroke="#f2959a" stroke-width="0.8"/>
<line x1="392.20" y1="477.81" x2="396.60" y2="477.81" stroke="#f2959a" stroke-width="0.8"/>
<line x1="424.10" y1="473.13" x2="424.10" y2="490.05" stroke="#f2959a" stroke-width="0.8"/>
<line x1="421.90" y1="473.13" x2="426.30" y2="473.13" stroke="#f2959a" stroke-width="0.8"/>
<line x1="421.90" y1="490.05" x2="426.30" y2="490.05" stroke="#f2959a" stroke-width="0.8"/>
<line x1="453.80" y1="463.43" x2="453.80" y2="484.33" stroke="#f2959a" stroke-width="0.8"/>
<line x1="451.60" y1="463.43" x2="456.00" y2="463.43" stroke="#f2959a" stroke-width="0.8"/>
<line x1="451.60" y1="484.33" x2="456.00" y2="484.33" stroke="#f2959a" stroke-width="0.8"/>
<line x1="483.70" y1="451.64" x2="483.70" y2="472.54" stroke="#f2959a" stroke-width="0.8"/>
<line x1="481.50" y1="451.64" x2="485.90" y2="451.64" stroke="#f2959a" stroke-width="0.8"/>
<line x1="481.50" y1="472.54" x2="485.90" y2="472.54" stroke="#f2959a" stroke-width="0.8"/>
<polyline points="394.40,479.15 424.10,491.59 453.80,487.61 483.70,473.18" fill="none" stroke="#3d7fba" stroke-width="1.0"/>
<circle cx="394.40" cy="479.15" r="2.1" fill="#3d7fba"/>
<circle cx="424.10" cy="491.59" r="2.1" fill="#3d7fba"/>
<circle cx="453.80" cy="487.61" r="2.1" fill="#3d7fba"/>
<circle cx="483.70" cy="473.18" r="2.1" fill="#3d7fba"/>
<polyline points="394.40,467.36 424.10,481.59 453.80,473.88 483.70,462.09" fill="none" stroke="#ec3b43" stroke-width="1.0"/>
<circle cx="394.40" cy="467.36" r="2.1" fill="#ec3b43"/>
<circle cx="424.10" cy="481.59" r="2.1" fill="#ec3b43"/>
<circle cx="453.80" cy="473.88" r="2.1" fill="#ec3b43"/>
<circle cx="483.70" cy="462.09" r="2.1" fill="#ec3b43"/>
<text x="487.30" y="463.70" font-size="10.0" font-weight="normal" text-anchor="start" fill="#ec3b43">CNT</text>
<text x="487.30" y="477.60" font-size="10.0" font-weight="normal" text-anchor="start" fill="#3d7fba">TM</text>
<path d="M434.90,458.30 L434.90,463.70 M432.56,459.65 L437.24,462.35 M437.24,459.65 L432.56,462.35 " stroke="#000" stroke-width="0.95" stroke-linecap="round" fill="none"/>
<circle cx="434.90" cy="461.00" r="1.215" fill="#000"/>
<path d="M441.60,458.30 L441.60,463.70 M439.26,459.65 L443.94,462.35 M443.94,459.65 L439.26,462.35 " stroke="#000" stroke-width="0.95" stroke-linecap="round" fill="none"/>
<circle cx="441.60" cy="461.00" r="1.215" fill="#000"/>
<line x1="547.80" y1="439.90" x2="547.80" y2="539.80" stroke="#111" stroke-width="1.2"/>
<line x1="544.30" y1="539.30" x2="547.80" y2="539.30" stroke="#111" stroke-width="1.2"/>
<text x="543.20" y="541.78" font-size="6.9" font-weight="bold" text-anchor="end" fill="#111">0.0</text>
<line x1="544.30" y1="514.52" x2="547.80" y2="514.52" stroke="#111" stroke-width="1.2"/>
<text x="543.20" y="517.01" font-size="6.9" font-weight="bold" text-anchor="end" fill="#111">0.5</text>
<line x1="544.30" y1="489.75" x2="547.80" y2="489.75" stroke="#111" stroke-width="1.2"/>
<text x="543.20" y="492.23" font-size="6.9" font-weight="bold" text-anchor="end" fill="#111">1.0</text>
<line x1="544.30" y1="464.97" x2="547.80" y2="464.97" stroke="#111" stroke-width="1.2"/>
<text x="543.20" y="467.46" font-size="6.9" font-weight="bold" text-anchor="end" fill="#111">1.5</text>
<line x1="544.30" y1="440.20" x2="547.80" y2="440.20" stroke="#111" stroke-width="1.2"/>
<text x="543.20" y="442.68" font-size="6.9" font-weight="bold" text-anchor="end" fill="#111">2.0</text>
<line x1="545.60" y1="526.91" x2="547.80" y2="526.91" stroke="#111" stroke-width="1.2"/>
<line x1="545.60" y1="502.14" x2="547.80" y2="502.14" stroke="#111" stroke-width="1.2"/>
<line x1="545.60" y1="477.36" x2="547.80" y2="477.36" stroke="#111" stroke-width="1.2"/>
<line x1="545.60" y1="452.59" x2="547.80" y2="452.59" stroke="#111" stroke-width="1.2"/>
<line x1="547.30" y1="539.30" x2="665.80" y2="539.30" stroke="#111" stroke-width="1.2"/>
<line x1="562.80" y1="539.30" x2="562.80" y2="542.80" stroke="#111" stroke-width="1.2"/>
<line x1="592.50" y1="539.30" x2="592.50" y2="542.80" stroke="#111" stroke-width="1.2"/>
<line x1="622.40" y1="539.30" x2="622.40" y2="542.80" stroke="#111" stroke-width="1.2"/>
<line x1="652.10" y1="539.30" x2="652.10" y2="542.80" stroke="#111" stroke-width="1.2"/>
<text x="562.30" y="549.90" font-size="7.6" font-weight="bold" text-anchor="middle" fill="#000">D1</text>
<text x="592.00" y="549.90" font-size="7.6" font-weight="bold" text-anchor="middle" fill="#000">D5</text>
<text x="621.90" y="549.90" font-size="7.6" font-weight="bold" text-anchor="middle" fill="#000">D10</text>
<text x="651.60" y="549.90" font-size="7.6" font-weight="bold" text-anchor="middle" fill="#000">D15</text>
<text x="524.70" y="490.10" font-size="9.2" font-weight="bold" text-anchor="middle" fill="#111" transform="rotate(-90 524.7 490.1)">Curling Time (%)</text>
<line x1="562.80" y1="490.25" x2="562.80" y2="505.61" stroke="#8db4dc" stroke-width="0.8"/>
<line x1="560.60" y1="490.25" x2="565.00" y2="490.25" stroke="#8db4dc" stroke-width="0.8"/>
<line x1="560.60" y1="505.61" x2="565.00" y2="505.61" stroke="#8db4dc" stroke-width="0.8"/>
<line x1="592.50" y1="516.51" x2="592.50" y2="521.46" stroke="#8db4dc" stroke-width="0.8"/>
<line x1="590.30" y1="516.51" x2="594.70" y2="516.51" stroke="#8db4dc" stroke-width="0.8"/>
<line x1="590.30" y1="521.46" x2="594.70" y2="521.46" stroke="#8db4dc" stroke-width="0.8"/>
<line x1="622.40" y1="524.93" x2="622.40" y2="532.86" stroke="#8db4dc" stroke-width="0.8"/>
<line x1="620.20" y1="524.93" x2="624.60" y2="524.93" stroke="#8db4dc" stroke-width="0.8"/>
<line x1="620.20" y1="532.86" x2="624.60" y2="532.86" stroke="#8db4dc" stroke-width="0.8"/>
<line x1="652.10" y1="531.87" x2="652.10" y2="533.85" stroke="#8db4dc" stroke-width="0.8"/>
<line x1="649.90" y1="531.87" x2="654.30" y2="531.87" stroke="#8db4dc" stroke-width="0.8"/>
<line x1="649.90" y1="533.85" x2="654.30" y2="533.85" stroke="#8db4dc" stroke-width="0.8"/>
<line x1="562.80" y1="462.50" x2="562.80" y2="485.29" stroke="#f2959a" stroke-width="0.8"/>
<line x1="560.60" y1="462.50" x2="565.00" y2="462.50" stroke="#f2959a" stroke-width="0.8"/>
<line x1="560.60" y1="485.29" x2="565.00" y2="485.29" stroke="#f2959a" stroke-width="0.8"/>
<line x1="592.50" y1="510.07" x2="592.50" y2="519.98" stroke="#f2959a" stroke-width="0.8"/>
<line x1="590.30" y1="510.07" x2="594.70" y2="510.07" stroke="#f2959a" stroke-width="0.8"/>
<line x1="590.30" y1="519.98" x2="594.70" y2="519.98" stroke="#f2959a" stroke-width="0.8"/>
<line x1="622.40" y1="523.44" x2="622.40" y2="529.39" stroke="#f2959a" stroke-width="0.8"/>
<line x1="620.20" y1="523.44" x2="624.60" y2="523.44" stroke="#f2959a" stroke-width="0.8"/>
<line x1="620.20" y1="529.39" x2="624.60" y2="529.39" stroke="#f2959a" stroke-width="0.8"/>
<line x1="652.10" y1="533.85" x2="652.10" y2="535.83" stroke="#f2959a" stroke-width="0.8"/>
<line x1="649.90" y1="533.85" x2="654.30" y2="533.85" stroke="#f2959a" stroke-width="0.8"/>
<line x1="649.90" y1="535.83" x2="654.30" y2="535.83" stroke="#f2959a" stroke-width="0.8"/>
<polyline points="562.80,490.25 592.50,518.98 622.40,528.89 652.10,532.86" fill="none" stroke="#3d7fba" stroke-width="1.0"/>
<circle cx="562.80" cy="490.25" r="2.1" fill="#3d7fba"/>
<circle cx="592.50" cy="518.98" r="2.1" fill="#3d7fba"/>
<circle cx="622.40" cy="528.89" r="2.1" fill="#3d7fba"/>
<circle cx="652.10" cy="532.86" r="2.1" fill="#3d7fba"/>
<polyline points="562.80,473.89 592.50,515.02 622.40,526.42 652.10,534.84" fill="none" stroke="#ec3b43" stroke-width="1.0"/>
<circle cx="562.80" cy="473.89" r="2.1" fill="#ec3b43"/>
<circle cx="592.50" cy="515.02" r="2.1" fill="#ec3b43"/>
<circle cx="622.40" cy="526.42" r="2.1" fill="#ec3b43"/>
<circle cx="652.10" cy="534.84" r="2.1" fill="#ec3b43"/>
<text x="654.40" y="528.70" font-size="10.0" font-weight="normal" text-anchor="start" fill="#ec3b43">CNT</text>
<text x="656.20" y="538.10" font-size="10.0" font-weight="normal" text-anchor="start" fill="#3d7fba">TM</text>
<path d="M609.20,500.20 L609.20,505.60 M606.86,501.55 L611.54,504.25 M611.54,501.55 L606.86,504.25 " stroke="#000" stroke-width="0.95" stroke-linecap="round" fill="none"/>
<circle cx="609.20" cy="502.90" r="1.215" fill="#000"/>
</svg>
</body></html>
